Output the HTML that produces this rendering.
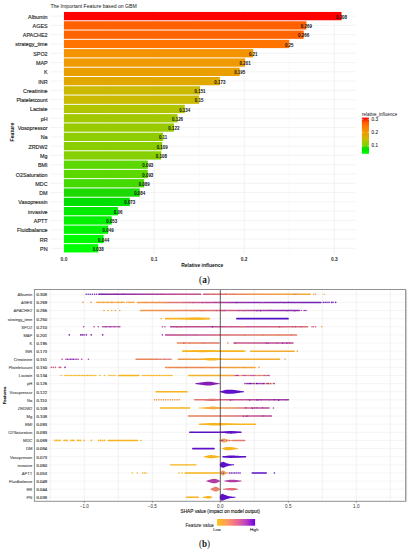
<!DOCTYPE html>
<html><head><meta charset="utf-8"><style>
html,body{margin:0;padding:0;background:#fff;width:410px;height:550px;overflow:hidden}
svg text{font-family:"Liberation Sans", sans-serif}
</style></head><body>
<svg width="410" height="550" viewBox="0 0 410 550" style="display:block">
<rect width="410" height="550" fill="#fff"/>
<line x1="109.05" y1="10.53" x2="109.05" y2="253.87" stroke="#F2F2F2" stroke-width="0.5"/>
<line x1="199.15" y1="10.53" x2="199.15" y2="253.87" stroke="#F2F2F2" stroke-width="0.5"/>
<line x1="289.25" y1="10.53" x2="289.25" y2="253.87" stroke="#F2F2F2" stroke-width="0.5"/>
<line x1="64.00" y1="10.53" x2="64.00" y2="253.87" stroke="#EDEDED" stroke-width="0.8"/>
<line x1="154.10" y1="10.53" x2="154.10" y2="253.87" stroke="#EDEDED" stroke-width="0.8"/>
<line x1="244.20" y1="10.53" x2="244.20" y2="253.87" stroke="#EDEDED" stroke-width="0.8"/>
<line x1="334.30" y1="10.53" x2="334.30" y2="253.87" stroke="#EDEDED" stroke-width="0.8"/>
<line x1="50.10" y1="16.10" x2="355.40" y2="16.10" stroke="#F0F0F0" stroke-width="0.8"/>
<line x1="50.10" y1="25.39" x2="355.40" y2="25.39" stroke="#F0F0F0" stroke-width="0.8"/>
<line x1="50.10" y1="34.68" x2="355.40" y2="34.68" stroke="#F0F0F0" stroke-width="0.8"/>
<line x1="50.10" y1="43.96" x2="355.40" y2="43.96" stroke="#F0F0F0" stroke-width="0.8"/>
<line x1="50.10" y1="53.25" x2="355.40" y2="53.25" stroke="#F0F0F0" stroke-width="0.8"/>
<line x1="50.10" y1="62.54" x2="355.40" y2="62.54" stroke="#F0F0F0" stroke-width="0.8"/>
<line x1="50.10" y1="71.83" x2="355.40" y2="71.83" stroke="#F0F0F0" stroke-width="0.8"/>
<line x1="50.10" y1="81.12" x2="355.40" y2="81.12" stroke="#F0F0F0" stroke-width="0.8"/>
<line x1="50.10" y1="90.40" x2="355.40" y2="90.40" stroke="#F0F0F0" stroke-width="0.8"/>
<line x1="50.10" y1="99.69" x2="355.40" y2="99.69" stroke="#F0F0F0" stroke-width="0.8"/>
<line x1="50.10" y1="108.98" x2="355.40" y2="108.98" stroke="#F0F0F0" stroke-width="0.8"/>
<line x1="50.10" y1="118.27" x2="355.40" y2="118.27" stroke="#F0F0F0" stroke-width="0.8"/>
<line x1="50.10" y1="127.56" x2="355.40" y2="127.56" stroke="#F0F0F0" stroke-width="0.8"/>
<line x1="50.10" y1="136.84" x2="355.40" y2="136.84" stroke="#F0F0F0" stroke-width="0.8"/>
<line x1="50.10" y1="146.13" x2="355.40" y2="146.13" stroke="#F0F0F0" stroke-width="0.8"/>
<line x1="50.10" y1="155.42" x2="355.40" y2="155.42" stroke="#F0F0F0" stroke-width="0.8"/>
<line x1="50.10" y1="164.71" x2="355.40" y2="164.71" stroke="#F0F0F0" stroke-width="0.8"/>
<line x1="50.10" y1="174.00" x2="355.40" y2="174.00" stroke="#F0F0F0" stroke-width="0.8"/>
<line x1="50.10" y1="183.28" x2="355.40" y2="183.28" stroke="#F0F0F0" stroke-width="0.8"/>
<line x1="50.10" y1="192.57" x2="355.40" y2="192.57" stroke="#F0F0F0" stroke-width="0.8"/>
<line x1="50.10" y1="201.86" x2="355.40" y2="201.86" stroke="#F0F0F0" stroke-width="0.8"/>
<line x1="50.10" y1="211.15" x2="355.40" y2="211.15" stroke="#F0F0F0" stroke-width="0.8"/>
<line x1="50.10" y1="220.44" x2="355.40" y2="220.44" stroke="#F0F0F0" stroke-width="0.8"/>
<line x1="50.10" y1="229.72" x2="355.40" y2="229.72" stroke="#F0F0F0" stroke-width="0.8"/>
<line x1="50.10" y1="239.01" x2="355.40" y2="239.01" stroke="#F0F0F0" stroke-width="0.8"/>
<line x1="50.10" y1="248.30" x2="355.40" y2="248.30" stroke="#F0F0F0" stroke-width="0.8"/>
<rect x="64.00" y="11.95" width="277.51" height="8.30" fill="#FF0000"/>
<rect x="64.00" y="21.24" width="242.37" height="8.30" fill="#FF6000"/>
<rect x="64.00" y="30.53" width="239.67" height="8.30" fill="#FF6400"/>
<rect x="64.00" y="39.81" width="225.25" height="8.30" fill="#FF7400"/>
<rect x="64.00" y="49.10" width="189.21" height="8.30" fill="#F39300"/>
<rect x="64.00" y="58.39" width="181.10" height="8.30" fill="#EF9A00"/>
<rect x="64.00" y="67.68" width="175.69" height="8.30" fill="#EA9F00"/>
<rect x="64.00" y="76.97" width="155.87" height="8.30" fill="#E0A800"/>
<rect x="64.00" y="86.25" width="136.05" height="8.30" fill="#CBB900"/>
<rect x="64.00" y="95.54" width="135.15" height="8.30" fill="#C9BA00"/>
<rect x="64.00" y="104.83" width="120.73" height="8.30" fill="#B0C400"/>
<rect x="64.00" y="114.12" width="113.53" height="8.30" fill="#A2C800"/>
<rect x="64.00" y="123.41" width="109.92" height="8.30" fill="#98CA00"/>
<rect x="64.00" y="132.69" width="99.11" height="8.30" fill="#8ECD00"/>
<rect x="64.00" y="141.98" width="98.21" height="8.30" fill="#8ACE00"/>
<rect x="64.00" y="151.27" width="97.31" height="8.30" fill="#86CF00"/>
<rect x="64.00" y="160.56" width="83.79" height="8.30" fill="#5CD800"/>
<rect x="64.00" y="169.85" width="83.79" height="8.30" fill="#5CD800"/>
<rect x="64.00" y="179.13" width="80.19" height="8.30" fill="#44D900"/>
<rect x="64.00" y="188.42" width="75.68" height="8.30" fill="#1CDA00"/>
<rect x="64.00" y="197.71" width="65.77" height="8.30" fill="#00E000"/>
<rect x="64.00" y="207.00" width="54.06" height="8.30" fill="#00EC00"/>
<rect x="64.00" y="216.29" width="47.75" height="8.30" fill="#00F200"/>
<rect x="64.00" y="225.57" width="44.15" height="8.30" fill="#00F600"/>
<rect x="64.00" y="234.86" width="39.64" height="8.30" fill="#00FA00"/>
<rect x="64.00" y="244.15" width="34.24" height="8.30" fill="#00FF00"/>
<text x="341.51" y="18.65" font-size="4.45" font-weight="bold" fill="#111" text-anchor="middle">0.308</text>
<text x="306.37" y="27.94" font-size="4.45" font-weight="bold" fill="#111" text-anchor="middle">0.269</text>
<text x="303.67" y="37.23" font-size="4.45" font-weight="bold" fill="#111" text-anchor="middle">0.266</text>
<text x="289.25" y="46.51" font-size="4.45" font-weight="bold" fill="#111" text-anchor="middle">0.25</text>
<text x="253.21" y="55.80" font-size="4.45" font-weight="bold" fill="#111" text-anchor="middle">0.21</text>
<text x="245.10" y="65.09" font-size="4.45" font-weight="bold" fill="#111" text-anchor="middle">0.201</text>
<text x="239.69" y="74.38" font-size="4.45" font-weight="bold" fill="#111" text-anchor="middle">0.195</text>
<text x="219.87" y="83.67" font-size="4.45" font-weight="bold" fill="#111" text-anchor="middle">0.173</text>
<text x="200.05" y="92.95" font-size="4.45" font-weight="bold" fill="#111" text-anchor="middle">0.151</text>
<text x="199.15" y="102.24" font-size="4.45" font-weight="bold" fill="#111" text-anchor="middle">0.15</text>
<text x="184.73" y="111.53" font-size="4.45" font-weight="bold" fill="#111" text-anchor="middle">0.134</text>
<text x="177.53" y="120.82" font-size="4.45" font-weight="bold" fill="#111" text-anchor="middle">0.126</text>
<text x="173.92" y="130.11" font-size="4.45" font-weight="bold" fill="#111" text-anchor="middle">0.122</text>
<text x="163.11" y="139.39" font-size="4.45" font-weight="bold" fill="#111" text-anchor="middle">0.11</text>
<text x="162.21" y="148.68" font-size="4.45" font-weight="bold" fill="#111" text-anchor="middle">0.109</text>
<text x="161.31" y="157.97" font-size="4.45" font-weight="bold" fill="#111" text-anchor="middle">0.108</text>
<text x="147.79" y="167.26" font-size="4.45" font-weight="bold" fill="#111" text-anchor="middle">0.093</text>
<text x="147.79" y="176.55" font-size="4.45" font-weight="bold" fill="#111" text-anchor="middle">0.093</text>
<text x="144.19" y="185.83" font-size="4.45" font-weight="bold" fill="#111" text-anchor="middle">0.089</text>
<text x="139.68" y="195.12" font-size="4.45" font-weight="bold" fill="#111" text-anchor="middle">0.084</text>
<text x="129.77" y="204.41" font-size="4.45" font-weight="bold" fill="#111" text-anchor="middle">0.073</text>
<text x="118.06" y="213.70" font-size="4.45" font-weight="bold" fill="#111" text-anchor="middle">0.06</text>
<text x="111.75" y="222.99" font-size="4.45" font-weight="bold" fill="#111" text-anchor="middle">0.053</text>
<text x="108.15" y="232.27" font-size="4.45" font-weight="bold" fill="#111" text-anchor="middle">0.049</text>
<text x="103.64" y="241.56" font-size="4.45" font-weight="bold" fill="#111" text-anchor="middle">0.044</text>
<text x="98.24" y="250.85" font-size="4.45" font-weight="bold" fill="#111" text-anchor="middle">0.038</text>
<text x="47.6" y="18.60" font-size="5.4" fill="#262626" stroke="#262626" stroke-width="0.14" text-anchor="end">Albumin</text>
<text x="47.6" y="27.89" font-size="5.4" fill="#262626" stroke="#262626" stroke-width="0.14" text-anchor="end">AGES</text>
<text x="47.6" y="37.18" font-size="5.4" fill="#262626" stroke="#262626" stroke-width="0.14" text-anchor="end">APACHE2</text>
<text x="47.6" y="46.46" font-size="5.4" fill="#262626" stroke="#262626" stroke-width="0.14" text-anchor="end">strategy_time</text>
<text x="47.6" y="55.75" font-size="5.4" fill="#262626" stroke="#262626" stroke-width="0.14" text-anchor="end">SPO2</text>
<text x="47.6" y="65.04" font-size="5.4" fill="#262626" stroke="#262626" stroke-width="0.14" text-anchor="end">MAP</text>
<text x="47.6" y="74.33" font-size="5.4" fill="#262626" stroke="#262626" stroke-width="0.14" text-anchor="end">K</text>
<text x="47.6" y="83.62" font-size="5.4" fill="#262626" stroke="#262626" stroke-width="0.14" text-anchor="end">INR</text>
<text x="47.6" y="92.90" font-size="5.4" fill="#262626" stroke="#262626" stroke-width="0.14" text-anchor="end">Creatinine</text>
<text x="47.6" y="102.19" font-size="5.4" fill="#262626" stroke="#262626" stroke-width="0.14" text-anchor="end">Plateletcount</text>
<text x="47.6" y="111.48" font-size="5.4" fill="#262626" stroke="#262626" stroke-width="0.14" text-anchor="end">Lactate</text>
<text x="47.6" y="120.77" font-size="5.4" fill="#262626" stroke="#262626" stroke-width="0.14" text-anchor="end">pH</text>
<text x="47.6" y="130.06" font-size="5.4" fill="#262626" stroke="#262626" stroke-width="0.14" text-anchor="end">Vosopressor</text>
<text x="47.6" y="139.34" font-size="5.4" fill="#262626" stroke="#262626" stroke-width="0.14" text-anchor="end">Na</text>
<text x="47.6" y="148.63" font-size="5.4" fill="#262626" stroke="#262626" stroke-width="0.14" text-anchor="end">ZRDW2</text>
<text x="47.6" y="157.92" font-size="5.4" fill="#262626" stroke="#262626" stroke-width="0.14" text-anchor="end">Mg</text>
<text x="47.6" y="167.21" font-size="5.4" fill="#262626" stroke="#262626" stroke-width="0.14" text-anchor="end">BMI</text>
<text x="47.6" y="176.50" font-size="5.4" fill="#262626" stroke="#262626" stroke-width="0.14" text-anchor="end">O2Saturation</text>
<text x="47.6" y="185.78" font-size="5.4" fill="#262626" stroke="#262626" stroke-width="0.14" text-anchor="end">MDC</text>
<text x="47.6" y="195.07" font-size="5.4" fill="#262626" stroke="#262626" stroke-width="0.14" text-anchor="end">DM</text>
<text x="47.6" y="204.36" font-size="5.4" fill="#262626" stroke="#262626" stroke-width="0.14" text-anchor="end">Vasopressin</text>
<text x="47.6" y="213.65" font-size="5.4" fill="#262626" stroke="#262626" stroke-width="0.14" text-anchor="end">invasive</text>
<text x="47.6" y="222.94" font-size="5.4" fill="#262626" stroke="#262626" stroke-width="0.14" text-anchor="end">APTT</text>
<text x="47.6" y="232.22" font-size="5.4" fill="#262626" stroke="#262626" stroke-width="0.14" text-anchor="end">Fluidbalance</text>
<text x="47.6" y="241.51" font-size="5.4" fill="#262626" stroke="#262626" stroke-width="0.14" text-anchor="end">RR</text>
<text x="47.6" y="250.80" font-size="5.4" fill="#262626" stroke="#262626" stroke-width="0.14" text-anchor="end">PN</text>
<text x="64.00" y="260.7" font-size="4.9" font-weight="bold" fill="#333" text-anchor="middle">0.0</text>
<text x="154.10" y="260.7" font-size="4.9" font-weight="bold" fill="#333" text-anchor="middle">0.1</text>
<text x="244.20" y="260.7" font-size="4.9" font-weight="bold" fill="#333" text-anchor="middle">0.2</text>
<text x="334.30" y="260.7" font-size="4.9" font-weight="bold" fill="#333" text-anchor="middle">0.3</text>
<text x="202.2" y="267" font-size="4.95" font-weight="bold" fill="#111" text-anchor="middle">Relative influence</text>
<text transform="translate(13.9,132.1) rotate(-90)" font-size="5.2" font-weight="bold" fill="#111" text-anchor="middle">Feature</text>
<text x="50.4" y="7.8" font-size="5.12" fill="#111">The Important Feature based on GBM</text>
<text x="361.9" y="115.6" font-size="4.54" fill="#111">relative_influence</text>
<defs><linearGradient id="lg" x1="0" y1="1" x2="0" y2="0">
<stop offset="0.000" stop-color="#00FF00"/>
<stop offset="0.022" stop-color="#00FA00"/>
<stop offset="0.041" stop-color="#00F600"/>
<stop offset="0.056" stop-color="#00F200"/>
<stop offset="0.081" stop-color="#00EC00"/>
<stop offset="0.130" stop-color="#00E000"/>
<stop offset="0.170" stop-color="#1CDA00"/>
<stop offset="0.189" stop-color="#44D900"/>
<stop offset="0.204" stop-color="#5CD800"/>
<stop offset="0.259" stop-color="#86CF00"/>
<stop offset="0.263" stop-color="#8ACE00"/>
<stop offset="0.267" stop-color="#8ECD00"/>
<stop offset="0.311" stop-color="#98CA00"/>
<stop offset="0.326" stop-color="#A2C800"/>
<stop offset="0.356" stop-color="#B0C400"/>
<stop offset="0.415" stop-color="#C9BA00"/>
<stop offset="0.419" stop-color="#CBB900"/>
<stop offset="0.500" stop-color="#E0A800"/>
<stop offset="0.581" stop-color="#EA9F00"/>
<stop offset="0.604" stop-color="#EF9A00"/>
<stop offset="0.637" stop-color="#F39300"/>
<stop offset="0.785" stop-color="#FF7400"/>
<stop offset="0.844" stop-color="#FF6400"/>
<stop offset="0.856" stop-color="#FF6000"/>
<stop offset="1.000" stop-color="#FF0000"/>
</linearGradient>
<linearGradient id="sg" x1="0" y1="0" x2="1" y2="0"><stop offset="0" stop-color="#FFC20A"/><stop offset="0.25" stop-color="#FF9C62"/><stop offset="0.5" stop-color="#EE6E8C"/><stop offset="0.75" stop-color="#C043BE"/><stop offset="1" stop-color="#6A00E4"/></linearGradient></defs>
<rect x="361.9" y="117.6" width="7.1" height="36.20" fill="url(#lg)"/>
<line x1="361.9" y1="119.30" x2="363.3" y2="119.30" stroke="#fff" stroke-width="0.5"/>
<line x1="367.6" y1="119.30" x2="369" y2="119.30" stroke="#fff" stroke-width="0.5"/>
<text x="371.6" y="120.95" font-size="4.6" fill="#262626" stroke="#262626" stroke-width="0.08">0.3</text>
<line x1="361.9" y1="132.40" x2="363.3" y2="132.40" stroke="#fff" stroke-width="0.5"/>
<line x1="367.6" y1="132.40" x2="369" y2="132.40" stroke="#fff" stroke-width="0.5"/>
<text x="371.6" y="134.05" font-size="4.6" fill="#262626" stroke="#262626" stroke-width="0.08">0.2</text>
<line x1="361.9" y1="145.80" x2="363.3" y2="145.80" stroke="#fff" stroke-width="0.5"/>
<line x1="367.6" y1="145.80" x2="369" y2="145.80" stroke="#fff" stroke-width="0.5"/>
<text x="371.6" y="147.45" font-size="4.6" fill="#262626" stroke="#262626" stroke-width="0.08">0.1</text>
<text x="199.1" y="282.7" font-size="10.5" fill="#111" textLength="10.8" lengthAdjust="spacingAndGlyphs" style='font-family:"Liberation Serif", serif'>(<tspan font-weight="bold">a</tspan>)</text>
<line x1="50.30" y1="289.5" x2="50.30" y2="501.3" stroke="#EBEBEB" stroke-width="0.7"/>
<line x1="84.30" y1="289.5" x2="84.30" y2="501.3" stroke="#EBEBEB" stroke-width="0.7"/>
<line x1="118.30" y1="289.5" x2="118.30" y2="501.3" stroke="#EBEBEB" stroke-width="0.7"/>
<line x1="152.30" y1="289.5" x2="152.30" y2="501.3" stroke="#EBEBEB" stroke-width="0.7"/>
<line x1="186.30" y1="289.5" x2="186.30" y2="501.3" stroke="#EBEBEB" stroke-width="0.7"/>
<line x1="254.30" y1="289.5" x2="254.30" y2="501.3" stroke="#EBEBEB" stroke-width="0.7"/>
<line x1="288.30" y1="289.5" x2="288.30" y2="501.3" stroke="#EBEBEB" stroke-width="0.7"/>
<line x1="322.30" y1="289.5" x2="322.30" y2="501.3" stroke="#EBEBEB" stroke-width="0.7"/>
<line x1="356.30" y1="289.5" x2="356.30" y2="501.3" stroke="#EBEBEB" stroke-width="0.7"/>
<line x1="390.30" y1="289.5" x2="390.30" y2="501.3" stroke="#EBEBEB" stroke-width="0.7"/>
<line x1="34.4" y1="294.30" x2="405.6" y2="294.30" stroke="#F1F1F1" stroke-width="0.7"/>
<line x1="34.4" y1="302.42" x2="405.6" y2="302.42" stroke="#F1F1F1" stroke-width="0.7"/>
<line x1="34.4" y1="310.54" x2="405.6" y2="310.54" stroke="#F1F1F1" stroke-width="0.7"/>
<line x1="34.4" y1="318.66" x2="405.6" y2="318.66" stroke="#F1F1F1" stroke-width="0.7"/>
<line x1="34.4" y1="326.78" x2="405.6" y2="326.78" stroke="#F1F1F1" stroke-width="0.7"/>
<line x1="34.4" y1="334.90" x2="405.6" y2="334.90" stroke="#F1F1F1" stroke-width="0.7"/>
<line x1="34.4" y1="343.02" x2="405.6" y2="343.02" stroke="#F1F1F1" stroke-width="0.7"/>
<line x1="34.4" y1="351.14" x2="405.6" y2="351.14" stroke="#F1F1F1" stroke-width="0.7"/>
<line x1="34.4" y1="359.26" x2="405.6" y2="359.26" stroke="#F1F1F1" stroke-width="0.7"/>
<line x1="34.4" y1="367.38" x2="405.6" y2="367.38" stroke="#F1F1F1" stroke-width="0.7"/>
<line x1="34.4" y1="375.50" x2="405.6" y2="375.50" stroke="#F1F1F1" stroke-width="0.7"/>
<line x1="34.4" y1="383.62" x2="405.6" y2="383.62" stroke="#F1F1F1" stroke-width="0.7"/>
<line x1="34.4" y1="391.74" x2="405.6" y2="391.74" stroke="#F1F1F1" stroke-width="0.7"/>
<line x1="34.4" y1="399.86" x2="405.6" y2="399.86" stroke="#F1F1F1" stroke-width="0.7"/>
<line x1="34.4" y1="407.98" x2="405.6" y2="407.98" stroke="#F1F1F1" stroke-width="0.7"/>
<line x1="34.4" y1="416.10" x2="405.6" y2="416.10" stroke="#F1F1F1" stroke-width="0.7"/>
<line x1="34.4" y1="424.22" x2="405.6" y2="424.22" stroke="#F1F1F1" stroke-width="0.7"/>
<line x1="34.4" y1="432.34" x2="405.6" y2="432.34" stroke="#F1F1F1" stroke-width="0.7"/>
<line x1="34.4" y1="440.46" x2="405.6" y2="440.46" stroke="#F1F1F1" stroke-width="0.7"/>
<line x1="34.4" y1="448.58" x2="405.6" y2="448.58" stroke="#F1F1F1" stroke-width="0.7"/>
<line x1="34.4" y1="456.70" x2="405.6" y2="456.70" stroke="#F1F1F1" stroke-width="0.7"/>
<line x1="34.4" y1="464.82" x2="405.6" y2="464.82" stroke="#F1F1F1" stroke-width="0.7"/>
<line x1="34.4" y1="472.94" x2="405.6" y2="472.94" stroke="#F1F1F1" stroke-width="0.7"/>
<line x1="34.4" y1="481.06" x2="405.6" y2="481.06" stroke="#F1F1F1" stroke-width="0.7"/>
<line x1="34.4" y1="489.18" x2="405.6" y2="489.18" stroke="#F1F1F1" stroke-width="0.7"/>
<line x1="34.4" y1="497.30" x2="405.6" y2="497.30" stroke="#F1F1F1" stroke-width="0.7"/>
<text x="32.3" y="296.15" font-size="4.1" fill="#555" stroke="#555" stroke-width="0.12" text-anchor="end">Albumin</text>
<text x="36.6" y="296.15" font-size="4.2" fill="#333" stroke="#333" stroke-width="0.12">0.308</text>
<text x="32.3" y="304.27" font-size="4.1" fill="#555" stroke="#555" stroke-width="0.12" text-anchor="end">AGES</text>
<text x="36.6" y="304.27" font-size="4.2" fill="#333" stroke="#333" stroke-width="0.12">0.269</text>
<text x="32.3" y="312.39" font-size="4.1" fill="#555" stroke="#555" stroke-width="0.12" text-anchor="end">APACHE2</text>
<text x="36.6" y="312.39" font-size="4.2" fill="#333" stroke="#333" stroke-width="0.12">0.266</text>
<text x="32.3" y="320.51" font-size="4.1" fill="#555" stroke="#555" stroke-width="0.12" text-anchor="end">strategy_time</text>
<text x="36.6" y="320.51" font-size="4.2" fill="#333" stroke="#333" stroke-width="0.12">0.250</text>
<text x="32.3" y="328.63" font-size="4.1" fill="#555" stroke="#555" stroke-width="0.12" text-anchor="end">SPO2</text>
<text x="36.6" y="328.63" font-size="4.2" fill="#333" stroke="#333" stroke-width="0.12">0.210</text>
<text x="32.3" y="336.75" font-size="4.1" fill="#555" stroke="#555" stroke-width="0.12" text-anchor="end">MAP</text>
<text x="36.6" y="336.75" font-size="4.2" fill="#333" stroke="#333" stroke-width="0.12">0.201</text>
<text x="32.3" y="344.87" font-size="4.1" fill="#555" stroke="#555" stroke-width="0.12" text-anchor="end">K</text>
<text x="36.6" y="344.87" font-size="4.2" fill="#333" stroke="#333" stroke-width="0.12">0.195</text>
<text x="32.3" y="352.99" font-size="4.1" fill="#555" stroke="#555" stroke-width="0.12" text-anchor="end">INR</text>
<text x="36.6" y="352.99" font-size="4.2" fill="#333" stroke="#333" stroke-width="0.12">0.173</text>
<text x="32.3" y="361.11" font-size="4.1" fill="#555" stroke="#555" stroke-width="0.12" text-anchor="end">Creatinine</text>
<text x="36.6" y="361.11" font-size="4.2" fill="#333" stroke="#333" stroke-width="0.12">0.151</text>
<text x="32.3" y="369.23" font-size="4.1" fill="#555" stroke="#555" stroke-width="0.12" text-anchor="end">Plateletcount</text>
<text x="36.6" y="369.23" font-size="4.2" fill="#333" stroke="#333" stroke-width="0.12">0.150</text>
<text x="32.3" y="377.35" font-size="4.1" fill="#555" stroke="#555" stroke-width="0.12" text-anchor="end">Lactate</text>
<text x="36.6" y="377.35" font-size="4.2" fill="#333" stroke="#333" stroke-width="0.12">0.134</text>
<text x="32.3" y="385.47" font-size="4.1" fill="#555" stroke="#555" stroke-width="0.12" text-anchor="end">pH</text>
<text x="36.6" y="385.47" font-size="4.2" fill="#333" stroke="#333" stroke-width="0.12">0.126</text>
<text x="32.3" y="393.59" font-size="4.1" fill="#555" stroke="#555" stroke-width="0.12" text-anchor="end">Vosopressor</text>
<text x="36.6" y="393.59" font-size="4.2" fill="#333" stroke="#333" stroke-width="0.12">0.122</text>
<text x="32.3" y="401.71" font-size="4.1" fill="#555" stroke="#555" stroke-width="0.12" text-anchor="end">Na</text>
<text x="36.6" y="401.71" font-size="4.2" fill="#333" stroke="#333" stroke-width="0.12">0.110</text>
<text x="32.3" y="409.83" font-size="4.1" fill="#555" stroke="#555" stroke-width="0.12" text-anchor="end">ZRDW2</text>
<text x="36.6" y="409.83" font-size="4.2" fill="#333" stroke="#333" stroke-width="0.12">0.109</text>
<text x="32.3" y="417.95" font-size="4.1" fill="#555" stroke="#555" stroke-width="0.12" text-anchor="end">Mg</text>
<text x="36.6" y="417.95" font-size="4.2" fill="#333" stroke="#333" stroke-width="0.12">0.108</text>
<text x="32.3" y="426.07" font-size="4.1" fill="#555" stroke="#555" stroke-width="0.12" text-anchor="end">BMI</text>
<text x="36.6" y="426.07" font-size="4.2" fill="#333" stroke="#333" stroke-width="0.12">0.093</text>
<text x="32.3" y="434.19" font-size="4.1" fill="#555" stroke="#555" stroke-width="0.12" text-anchor="end">O2Saturation</text>
<text x="36.6" y="434.19" font-size="4.2" fill="#333" stroke="#333" stroke-width="0.12">0.093</text>
<text x="32.3" y="442.31" font-size="4.1" fill="#555" stroke="#555" stroke-width="0.12" text-anchor="end">MDC</text>
<text x="36.6" y="442.31" font-size="4.2" fill="#333" stroke="#333" stroke-width="0.12">0.089</text>
<text x="32.3" y="450.43" font-size="4.1" fill="#555" stroke="#555" stroke-width="0.12" text-anchor="end">DM</text>
<text x="36.6" y="450.43" font-size="4.2" fill="#333" stroke="#333" stroke-width="0.12">0.084</text>
<text x="32.3" y="458.55" font-size="4.1" fill="#555" stroke="#555" stroke-width="0.12" text-anchor="end">Vasopressin</text>
<text x="36.6" y="458.55" font-size="4.2" fill="#333" stroke="#333" stroke-width="0.12">0.073</text>
<text x="32.3" y="466.67" font-size="4.1" fill="#555" stroke="#555" stroke-width="0.12" text-anchor="end">invasive</text>
<text x="36.6" y="466.67" font-size="4.2" fill="#333" stroke="#333" stroke-width="0.12">0.060</text>
<text x="32.3" y="474.79" font-size="4.1" fill="#555" stroke="#555" stroke-width="0.12" text-anchor="end">APTT</text>
<text x="36.6" y="474.79" font-size="4.2" fill="#333" stroke="#333" stroke-width="0.12">0.053</text>
<text x="32.3" y="482.91" font-size="4.1" fill="#555" stroke="#555" stroke-width="0.12" text-anchor="end">Fluidbalance</text>
<text x="36.6" y="482.91" font-size="4.2" fill="#333" stroke="#333" stroke-width="0.12">0.049</text>
<text x="32.3" y="491.03" font-size="4.1" fill="#555" stroke="#555" stroke-width="0.12" text-anchor="end">RR</text>
<text x="36.6" y="491.03" font-size="4.2" fill="#333" stroke="#333" stroke-width="0.12">0.044</text>
<text x="32.3" y="499.15" font-size="4.1" fill="#555" stroke="#555" stroke-width="0.12" text-anchor="end">PN</text>
<text x="36.6" y="499.15" font-size="4.2" fill="#333" stroke="#333" stroke-width="0.12">0.038</text>
<g><defs><linearGradient id="g1" gradientUnits="userSpaceOnUse" x1="98.00" y1="0" x2="201.50" y2="0"><stop offset="0.000" stop-color="#7A22AC"/><stop offset="0.213" stop-color="#8A2AA6"/><stop offset="0.454" stop-color="#A63A9C"/><stop offset="0.744" stop-color="#BE4A92"/><stop offset="1.000" stop-color="#C45090"/></linearGradient><linearGradient id="g2" gradientUnits="userSpaceOnUse" x1="202.80" y1="0" x2="311.00" y2="0"><stop offset="0.000" stop-color="#D05E86"/><stop offset="0.177" stop-color="#E07070"/><stop offset="0.436" stop-color="#EE9050"/><stop offset="0.806" stop-color="#F2A444"/><stop offset="1.000" stop-color="#F4AE3A"/></linearGradient><linearGradient id="g3" gradientUnits="userSpaceOnUse" x1="136.60" y1="0" x2="321.70" y2="0"><stop offset="0.000" stop-color="#F2A040"/><stop offset="0.126" stop-color="#EC8A58"/><stop offset="0.234" stop-color="#DC6C78"/><stop offset="0.343" stop-color="#C85890"/><stop offset="0.451" stop-color="#A83CA0"/><stop offset="0.613" stop-color="#8A2CAE"/><stop offset="1.000" stop-color="#7020B8"/></linearGradient><linearGradient id="g4" gradientUnits="userSpaceOnUse" x1="139.80" y1="0" x2="300.00" y2="0"><stop offset="0.000" stop-color="#F09A48"/><stop offset="0.220" stop-color="#EA8858"/><stop offset="0.407" stop-color="#E27468"/><stop offset="0.594" stop-color="#CC5C88"/><stop offset="0.750" stop-color="#A83CA2"/><stop offset="0.906" stop-color="#8A2CB0"/><stop offset="1.000" stop-color="#8A2CB0"/></linearGradient><linearGradient id="g5" gradientUnits="userSpaceOnUse" x1="169.80" y1="0" x2="308.30" y2="0"><stop offset="0.000" stop-color="#B8449A"/><stop offset="0.362" stop-color="#C4508E"/><stop offset="0.651" stop-color="#CC5C88"/><stop offset="0.868" stop-color="#D86A7C"/><stop offset="1.000" stop-color="#DC7078"/></linearGradient><linearGradient id="g6" gradientUnits="userSpaceOnUse" x1="164.90" y1="0" x2="297.30" y2="0"><stop offset="0.000" stop-color="#B84698"/><stop offset="0.265" stop-color="#C65490"/><stop offset="0.431" stop-color="#D86878"/><stop offset="0.643" stop-color="#E27668"/><stop offset="1.000" stop-color="#E67C62"/></linearGradient><linearGradient id="g7" gradientUnits="userSpaceOnUse" x1="176.60" y1="0" x2="219.80" y2="0"><stop offset="0.000" stop-color="#EA8A58"/><stop offset="1.000" stop-color="#E27668"/></linearGradient><linearGradient id="g8" gradientUnits="userSpaceOnUse" x1="233.20" y1="0" x2="293.70" y2="0"><stop offset="0.000" stop-color="#D0608A"/><stop offset="0.443" stop-color="#C4508E"/><stop offset="1.000" stop-color="#BE4896"/></linearGradient><linearGradient id="g9" gradientUnits="userSpaceOnUse" x1="249.80" y1="0" x2="294.90" y2="0"><stop offset="0.000" stop-color="#F6B028"/><stop offset="1.000" stop-color="#F2A838"/></linearGradient><linearGradient id="g10" gradientUnits="userSpaceOnUse" x1="177.60" y1="0" x2="280.20" y2="0"><stop offset="0.000" stop-color="#EE9648"/><stop offset="0.267" stop-color="#F4A838"/><stop offset="0.433" stop-color="#F6B02C"/><stop offset="1.000" stop-color="#F4AC32"/></linearGradient><linearGradient id="g11" gradientUnits="userSpaceOnUse" x1="164.90" y1="0" x2="255.90" y2="0"><stop offset="0.000" stop-color="#E8845A"/><stop offset="0.496" stop-color="#EA8A52"/><stop offset="0.660" stop-color="#F09C40"/><stop offset="1.000" stop-color="#F4A834"/></linearGradient><linearGradient id="g12" gradientUnits="userSpaceOnUse" x1="188.00" y1="0" x2="235.00" y2="0"><stop offset="0.000" stop-color="#F8B420"/><stop offset="0.681" stop-color="#F4AC30"/><stop offset="1.000" stop-color="#F0A040"/></linearGradient><linearGradient id="g13" gradientUnits="userSpaceOnUse" x1="193.90" y1="0" x2="289.30" y2="0"><stop offset="0.000" stop-color="#E07A68"/><stop offset="0.221" stop-color="#DC7078"/><stop offset="0.431" stop-color="#C85890"/><stop offset="0.693" stop-color="#B44498"/><stop offset="1.000" stop-color="#A03CA4"/></linearGradient><linearGradient id="g14" gradientUnits="userSpaceOnUse" x1="205.00" y1="0" x2="269.80" y2="0"><stop offset="0.000" stop-color="#F4A840"/><stop offset="0.231" stop-color="#F0A050"/><stop offset="0.463" stop-color="#E88C60"/><stop offset="0.664" stop-color="#D06C80"/><stop offset="0.849" stop-color="#C05090"/><stop offset="1.000" stop-color="#B84896"/></linearGradient><linearGradient id="g15" gradientUnits="userSpaceOnUse" x1="187.80" y1="0" x2="272.20" y2="0"><stop offset="0.000" stop-color="#E8845A"/><stop offset="0.405" stop-color="#E27868"/><stop offset="0.618" stop-color="#D86C78"/><stop offset="0.796" stop-color="#C45490"/><stop offset="1.000" stop-color="#B84898"/></linearGradient></defs><circle cx="86.20" cy="294.30" r="0.8" fill="#7A1FA8"/>
<circle cx="88.20" cy="294.30" r="0.8" fill="#7A1FA8"/>
<circle cx="90.20" cy="294.30" r="0.8" fill="#7A1FA8"/>
<circle cx="92.40" cy="294.30" r="0.8" fill="#7A1FA8"/>
<circle cx="94.60" cy="294.30" r="0.8" fill="#7A1FA8"/>
<circle cx="96.60" cy="294.30" r="0.8" fill="#7A1FA8"/>
<rect x="98.00" y="293.55" width="103.50" height="1.50" rx="0.75" fill="url(#g1)"/>
<circle cx="114.63" cy="294.03" r="0.6" fill="#B23E9E"/>
<circle cx="101.50" cy="294.26" r="0.6" fill="#B23E9E"/>
<circle cx="109.63" cy="294.33" r="0.6" fill="#B23E9E"/>
<circle cx="133.07" cy="294.07" r="0.6" fill="#B23E9E"/>
<circle cx="125.23" cy="294.35" r="0.6" fill="#B23E9E"/>
<circle cx="123.08" cy="294.24" r="0.6" fill="#B23E9E"/>
<circle cx="101.86" cy="294.52" r="0.6" fill="#6A1AB0"/>
<circle cx="116.77" cy="294.32" r="0.6" fill="#6A1AB0"/>
<circle cx="122.41" cy="294.41" r="0.6" fill="#B23E9E"/>
<circle cx="123.26" cy="294.38" r="0.6" fill="#6A1AB0"/>
<circle cx="145.85" cy="294.43" r="0.6" fill="#B23E9E"/>
<circle cx="177.14" cy="294.30" r="0.6" fill="#D05C88"/>
<circle cx="186.63" cy="294.28" r="0.6" fill="#D05C88"/>
<circle cx="161.69" cy="294.15" r="0.6" fill="#B23E9E"/>
<circle cx="181.94" cy="294.15" r="0.6" fill="#D05C88"/>
<circle cx="171.51" cy="294.53" r="0.6" fill="#D05C88"/>
<circle cx="157.28" cy="294.59" r="0.6" fill="#B23E9E"/>
<circle cx="170.72" cy="294.10" r="0.6" fill="#D05C88"/>
<circle cx="149.12" cy="294.29" r="0.6" fill="#B23E9E"/>
<circle cx="197.72" cy="294.05" r="0.6" fill="#D05C88"/>
<circle cx="160.41" cy="294.21" r="0.6" fill="#D05C88"/>
<circle cx="174.79" cy="294.27" r="0.6" fill="#B23E9E"/>
<rect x="202.80" y="293.55" width="108.20" height="1.50" rx="0.75" fill="url(#g2)"/>
<circle cx="294.74" cy="294.28" r="0.6" fill="#D05C88"/>
<circle cx="211.17" cy="294.44" r="0.6" fill="#F4A43A"/>
<circle cx="266.48" cy="294.60" r="0.6" fill="#F4A43A"/>
<circle cx="232.04" cy="294.23" r="0.6" fill="#D05C88"/>
<circle cx="237.97" cy="294.56" r="0.6" fill="#F4A43A"/>
<circle cx="220.96" cy="294.07" r="0.6" fill="#E67A62"/>
<circle cx="225.73" cy="294.17" r="0.6" fill="#D05C88"/>
<circle cx="228.52" cy="294.23" r="0.6" fill="#F4A43A"/>
<circle cx="212.66" cy="294.27" r="0.6" fill="#D05C88"/>
<circle cx="231.39" cy="294.08" r="0.6" fill="#F4A43A"/>
<circle cx="287.08" cy="294.17" r="0.6" fill="#F4A43A"/>
<circle cx="298.71" cy="294.41" r="0.6" fill="#F4A43A"/>
<circle cx="295.98" cy="294.09" r="0.6" fill="#E67A62"/>
<circle cx="219.37" cy="294.40" r="0.6" fill="#E67A62"/>
<circle cx="251.07" cy="294.35" r="0.6" fill="#F4A43A"/>
<circle cx="313.50" cy="294.30" r="0.8" fill="#F4A43A"/>
<circle cx="315.50" cy="294.30" r="0.8" fill="#F4A43A"/>
<circle cx="324.30" cy="294.30" r="0.8" fill="#F4B030"/>
<circle cx="83.00" cy="302.42" r="0.8" fill="#F4A43A"/>
<circle cx="91.00" cy="302.42" r="0.8" fill="#F4A43A"/>
<circle cx="97.00" cy="302.42" r="0.8" fill="#F4A43A"/>
<circle cx="98.31" cy="302.42" r="0.8" fill="#F4A43A"/>
<circle cx="99.62" cy="302.42" r="0.8" fill="#F4A43A"/>
<circle cx="100.92" cy="302.42" r="0.8" fill="#F4A43A"/>
<circle cx="102.23" cy="302.42" r="0.8" fill="#F4A43A"/>
<circle cx="103.54" cy="302.42" r="0.8" fill="#F4A43A"/>
<circle cx="104.85" cy="302.42" r="0.8" fill="#F4A43A"/>
<circle cx="106.15" cy="302.42" r="0.8" fill="#F4A43A"/>
<circle cx="107.46" cy="302.42" r="0.8" fill="#F4A43A"/>
<circle cx="108.77" cy="302.42" r="0.8" fill="#F4A43A"/>
<circle cx="110.08" cy="302.42" r="0.8" fill="#F4A43A"/>
<circle cx="111.38" cy="302.42" r="0.8" fill="#F4A43A"/>
<circle cx="112.69" cy="302.42" r="0.8" fill="#F4A43A"/>
<circle cx="114.00" cy="302.42" r="0.8" fill="#F4A43A"/>
<circle cx="116.00" cy="302.42" r="0.8" fill="#F4A43A"/>
<circle cx="117.33" cy="302.42" r="0.8" fill="#F4A43A"/>
<circle cx="118.67" cy="302.42" r="0.8" fill="#F4A43A"/>
<circle cx="120.00" cy="302.42" r="0.8" fill="#F4A43A"/>
<circle cx="121.33" cy="302.42" r="0.8" fill="#F4A43A"/>
<circle cx="122.67" cy="302.42" r="0.8" fill="#F4A43A"/>
<circle cx="124.00" cy="302.42" r="0.8" fill="#F4A43A"/>
<circle cx="126.80" cy="302.42" r="0.8" fill="#F4A43A"/>
<circle cx="128.18" cy="302.42" r="0.8" fill="#F4A43A"/>
<circle cx="129.56" cy="302.42" r="0.8" fill="#F4A43A"/>
<circle cx="130.94" cy="302.42" r="0.8" fill="#F4A43A"/>
<circle cx="132.32" cy="302.42" r="0.8" fill="#F4A43A"/>
<circle cx="133.70" cy="302.42" r="0.8" fill="#F4A43A"/>
<rect x="136.60" y="301.67" width="185.10" height="1.50" rx="0.75" fill="url(#g3)"/>
<circle cx="174.97" cy="302.49" r="0.6" fill="#E67A62"/>
<circle cx="165.38" cy="302.69" r="0.6" fill="#F4A43A"/>
<circle cx="158.97" cy="302.19" r="0.6" fill="#F4A43A"/>
<circle cx="179.72" cy="302.40" r="0.6" fill="#F4A43A"/>
<circle cx="152.47" cy="302.21" r="0.6" fill="#F4A43A"/>
<circle cx="169.61" cy="302.41" r="0.6" fill="#E67A62"/>
<circle cx="160.65" cy="302.24" r="0.6" fill="#F4A43A"/>
<circle cx="145.86" cy="302.45" r="0.6" fill="#E67A62"/>
<circle cx="217.91" cy="302.30" r="0.6" fill="#D05C88"/>
<circle cx="214.81" cy="302.28" r="0.6" fill="#B23E9E"/>
<circle cx="225.41" cy="302.33" r="0.6" fill="#D05C88"/>
<circle cx="206.63" cy="302.59" r="0.6" fill="#B23E9E"/>
<circle cx="211.82" cy="302.49" r="0.6" fill="#D05C88"/>
<circle cx="220.30" cy="302.61" r="0.6" fill="#D05C88"/>
<circle cx="190.00" cy="302.42" r="0.6" fill="#D05C88"/>
<circle cx="229.48" cy="302.59" r="0.6" fill="#B23E9E"/>
<circle cx="192.96" cy="302.54" r="0.6" fill="#B23E9E"/>
<circle cx="202.36" cy="302.68" r="0.6" fill="#B23E9E"/>
<circle cx="296.85" cy="302.34" r="0.6" fill="#B23E9E"/>
<circle cx="237.15" cy="302.40" r="0.6" fill="#7422B4"/>
<circle cx="244.31" cy="302.49" r="0.6" fill="#B23E9E"/>
<circle cx="263.56" cy="302.51" r="0.6" fill="#B23E9E"/>
<circle cx="288.43" cy="302.19" r="0.6" fill="#7422B4"/>
<circle cx="284.76" cy="302.57" r="0.6" fill="#7422B4"/>
<circle cx="292.23" cy="302.38" r="0.6" fill="#7422B4"/>
<circle cx="236.07" cy="302.69" r="0.6" fill="#7422B4"/>
<circle cx="262.42" cy="302.57" r="0.6" fill="#B23E9E"/>
<circle cx="280.74" cy="302.22" r="0.6" fill="#B23E9E"/>
<circle cx="323.30" cy="302.42" r="0.8" fill="#7422B4"/>
<circle cx="325.15" cy="302.42" r="0.8" fill="#7422B4"/>
<circle cx="327.00" cy="302.42" r="0.8" fill="#7422B4"/>
<circle cx="329.00" cy="302.42" r="0.8" fill="#7422B4"/>
<circle cx="331.50" cy="302.42" r="0.8" fill="#7422B4"/>
<circle cx="333.00" cy="302.42" r="0.8" fill="#7422B4"/>
<circle cx="335.70" cy="302.42" r="0.8" fill="#7422B4"/>
<circle cx="104.00" cy="310.54" r="0.8" fill="#F4A43A"/>
<circle cx="108.00" cy="310.54" r="0.8" fill="#F4A43A"/>
<circle cx="111.70" cy="310.54" r="0.8" fill="#F4A43A"/>
<circle cx="115.40" cy="310.54" r="0.8" fill="#F4A43A"/>
<circle cx="119.80" cy="310.54" r="0.8" fill="#F4A43A"/>
<rect x="139.80" y="309.79" width="160.20" height="1.50" rx="0.75" fill="url(#g4)"/>
<circle cx="168.86" cy="310.76" r="0.6" fill="#F4A43A"/>
<circle cx="146.54" cy="310.37" r="0.6" fill="#F4A43A"/>
<circle cx="187.00" cy="310.44" r="0.6" fill="#E67A62"/>
<circle cx="190.88" cy="310.28" r="0.6" fill="#E67A62"/>
<circle cx="194.37" cy="310.64" r="0.6" fill="#E67A62"/>
<circle cx="190.49" cy="310.77" r="0.6" fill="#F4A43A"/>
<circle cx="174.25" cy="310.55" r="0.6" fill="#F4A43A"/>
<circle cx="193.00" cy="310.71" r="0.6" fill="#F4A43A"/>
<circle cx="187.68" cy="310.33" r="0.6" fill="#F4A43A"/>
<circle cx="171.04" cy="310.68" r="0.6" fill="#F4A43A"/>
<circle cx="216.30" cy="310.55" r="0.6" fill="#B23E9E"/>
<circle cx="224.12" cy="310.71" r="0.6" fill="#B23E9E"/>
<circle cx="202.84" cy="310.35" r="0.6" fill="#E67A62"/>
<circle cx="238.61" cy="310.54" r="0.6" fill="#B23E9E"/>
<circle cx="201.39" cy="310.78" r="0.6" fill="#E67A62"/>
<circle cx="222.16" cy="310.61" r="0.6" fill="#B23E9E"/>
<circle cx="230.31" cy="310.36" r="0.6" fill="#D05C88"/>
<circle cx="222.62" cy="310.56" r="0.6" fill="#D05C88"/>
<circle cx="225.39" cy="310.39" r="0.6" fill="#B23E9E"/>
<circle cx="243.83" cy="310.81" r="0.6" fill="#D05C88"/>
<circle cx="294.29" cy="310.78" r="0.6" fill="#B23E9E"/>
<circle cx="290.32" cy="310.32" r="0.6" fill="#B23E9E"/>
<circle cx="268.83" cy="310.43" r="0.6" fill="#B23E9E"/>
<circle cx="270.56" cy="310.37" r="0.6" fill="#7422B4"/>
<circle cx="287.63" cy="310.78" r="0.6" fill="#B23E9E"/>
<circle cx="295.10" cy="310.63" r="0.6" fill="#7422B4"/>
<circle cx="256.86" cy="310.77" r="0.6" fill="#7422B4"/>
<circle cx="260.54" cy="310.81" r="0.6" fill="#7422B4"/>
<circle cx="292.48" cy="310.34" r="0.6" fill="#B23E9E"/>
<circle cx="257.75" cy="310.50" r="0.6" fill="#7422B4"/>
<circle cx="301.20" cy="310.54" r="0.8" fill="#B23E9E"/>
<circle cx="304.10" cy="310.54" r="0.8" fill="#7422B4"/>
<circle cx="305.90" cy="310.54" r="0.8" fill="#7422B4"/>
<circle cx="161.20" cy="318.66" r="0.8" fill="#F8B41C"/>
<rect x="164.90" y="317.76" width="45.10" height="1.80" rx="0.90" fill="#F8B41C"/>
<path d="M180.00,318.24 L181.14,318.20 L182.29,318.14 L183.43,318.07 L184.57,317.99 L185.71,317.92 L186.86,317.84 L188.00,317.77 L189.14,317.71 L190.29,317.65 L191.43,317.60 L192.57,317.56 L193.71,317.53 L194.86,317.52 L196.00,317.51 L197.00,317.52 L198.00,317.53 L199.00,317.56 L200.00,317.60 L201.00,317.65 L202.00,317.71 L203.00,317.77 L204.00,317.84 L205.00,317.92 L206.00,317.99 L207.00,318.07 L208.00,318.14 L209.00,318.20 L210.00,318.24 L210.00,319.08 L209.00,319.12 L208.00,319.18 L207.00,319.25 L206.00,319.33 L205.00,319.40 L204.00,319.48 L203.00,319.55 L202.00,319.61 L201.00,319.67 L200.00,319.72 L199.00,319.76 L198.00,319.79 L197.00,319.80 L196.00,319.81 L194.86,319.80 L193.71,319.79 L192.57,319.76 L191.43,319.72 L190.29,319.67 L189.14,319.61 L188.00,319.55 L186.86,319.48 L185.71,319.40 L184.57,319.33 L183.43,319.25 L182.29,319.18 L181.14,319.12 L180.00,319.08Z" fill="#F8B41C"/>
<rect x="236.10" y="317.76" width="52.70" height="1.80" rx="0.90" fill="#5410C4"/>
<circle cx="83.70" cy="326.78" r="0.8" fill="#B23E9E"/>
<circle cx="94.10" cy="326.78" r="0.8" fill="#B23E9E"/>
<circle cx="98.30" cy="326.78" r="0.8" fill="#B23E9E"/>
<circle cx="102.70" cy="326.78" r="0.8" fill="#B23E9E"/>
<circle cx="104.02" cy="326.78" r="0.8" fill="#9A30A8"/>
<circle cx="105.33" cy="326.78" r="0.8" fill="#9A30A8"/>
<circle cx="106.65" cy="326.78" r="0.8" fill="#9A30A8"/>
<circle cx="107.96" cy="326.78" r="0.8" fill="#B23E9E"/>
<circle cx="109.28" cy="326.78" r="0.8" fill="#9A30A8"/>
<circle cx="110.59" cy="326.78" r="0.8" fill="#9A30A8"/>
<circle cx="111.91" cy="326.78" r="0.8" fill="#9A30A8"/>
<circle cx="113.22" cy="326.78" r="0.8" fill="#B23E9E"/>
<circle cx="114.54" cy="326.78" r="0.8" fill="#B23E9E"/>
<circle cx="115.85" cy="326.78" r="0.8" fill="#B23E9E"/>
<circle cx="117.17" cy="326.78" r="0.8" fill="#B23E9E"/>
<circle cx="118.48" cy="326.78" r="0.8" fill="#B23E9E"/>
<circle cx="119.80" cy="326.78" r="0.8" fill="#9A30A8"/>
<circle cx="162.40" cy="326.78" r="0.8" fill="#B23E9E"/>
<circle cx="164.90" cy="326.78" r="0.8" fill="#B23E9E"/>
<rect x="169.80" y="326.03" width="138.50" height="1.50" rx="0.75" fill="url(#g5)"/>
<circle cx="292.77" cy="326.59" r="0.6" fill="#B23E9E"/>
<circle cx="281.57" cy="326.99" r="0.6" fill="#E67A62"/>
<circle cx="227.77" cy="326.80" r="0.6" fill="#F4A43A"/>
<circle cx="266.05" cy="326.53" r="0.6" fill="#D05C88"/>
<circle cx="278.95" cy="326.59" r="0.6" fill="#D05C88"/>
<circle cx="209.96" cy="326.49" r="0.6" fill="#D05C88"/>
<circle cx="279.21" cy="326.53" r="0.6" fill="#B23E9E"/>
<circle cx="183.66" cy="327.00" r="0.6" fill="#F4A43A"/>
<circle cx="176.50" cy="327.08" r="0.6" fill="#F4A43A"/>
<circle cx="295.47" cy="326.64" r="0.6" fill="#B23E9E"/>
<circle cx="180.62" cy="326.91" r="0.6" fill="#D05C88"/>
<circle cx="301.00" cy="326.64" r="0.6" fill="#B23E9E"/>
<circle cx="201.23" cy="326.67" r="0.6" fill="#E67A62"/>
<circle cx="244.04" cy="326.60" r="0.6" fill="#F4A43A"/>
<circle cx="240.01" cy="326.59" r="0.6" fill="#E67A62"/>
<circle cx="279.48" cy="327.08" r="0.6" fill="#D05C88"/>
<circle cx="176.99" cy="326.92" r="0.6" fill="#B23E9E"/>
<circle cx="241.85" cy="326.63" r="0.6" fill="#F4A43A"/>
<circle cx="212.40" cy="326.78" r="0.8" fill="#5812C4"/>
<circle cx="312.00" cy="326.78" r="0.8" fill="#D05C88"/>
<circle cx="313.50" cy="326.78" r="0.8" fill="#D05C88"/>
<circle cx="315.60" cy="326.78" r="0.8" fill="#D05C88"/>
<circle cx="321.70" cy="326.78" r="0.8" fill="#F4A43A"/>
<circle cx="69.30" cy="334.90" r="0.8" fill="#7A22A8"/>
<circle cx="80.70" cy="334.90" r="0.8" fill="#7A22A8"/>
<circle cx="82.20" cy="334.90" r="0.8" fill="#7A22A8"/>
<circle cx="84.00" cy="334.90" r="0.8" fill="#7A22A8"/>
<circle cx="86.30" cy="334.90" r="0.8" fill="#7A22A8"/>
<circle cx="91.20" cy="334.90" r="0.8" fill="#7A22A8"/>
<circle cx="102.70" cy="334.90" r="0.8" fill="#7A22A8"/>
<circle cx="162.40" cy="334.90" r="0.8" fill="#B23E9E"/>
<rect x="164.90" y="334.15" width="132.40" height="1.50" rx="0.75" fill="url(#g6)"/>
<circle cx="274.62" cy="334.61" r="0.6" fill="#F4A43A"/>
<circle cx="262.61" cy="334.75" r="0.6" fill="#D05C88"/>
<circle cx="176.93" cy="335.00" r="0.6" fill="#E67A62"/>
<circle cx="278.82" cy="335.00" r="0.6" fill="#E67A62"/>
<circle cx="244.85" cy="335.02" r="0.6" fill="#D05C88"/>
<circle cx="227.43" cy="334.69" r="0.6" fill="#E67A62"/>
<circle cx="170.45" cy="334.82" r="0.6" fill="#E67A62"/>
<circle cx="291.58" cy="334.93" r="0.6" fill="#D05C88"/>
<circle cx="174.31" cy="335.13" r="0.6" fill="#D05C88"/>
<circle cx="214.57" cy="334.60" r="0.6" fill="#E67A62"/>
<circle cx="180.49" cy="334.77" r="0.6" fill="#F4A43A"/>
<circle cx="195.12" cy="334.90" r="0.6" fill="#D05C88"/>
<circle cx="181.36" cy="335.09" r="0.6" fill="#D05C88"/>
<circle cx="219.94" cy="334.63" r="0.6" fill="#D05C88"/>
<rect x="176.60" y="342.27" width="43.20" height="1.50" rx="0.75" fill="url(#g7)"/>
<circle cx="189.99" cy="343.10" r="0.6" fill="#E67A62"/>
<circle cx="201.42" cy="343.04" r="0.6" fill="#E67A62"/>
<circle cx="204.30" cy="343.15" r="0.6" fill="#D05C88"/>
<circle cx="193.58" cy="342.92" r="0.6" fill="#F4A43A"/>
<circle cx="183.98" cy="343.15" r="0.6" fill="#D05C88"/>
<circle cx="183.79" cy="343.21" r="0.6" fill="#D05C88"/>
<circle cx="227.80" cy="343.02" r="0.8" fill="#E67A62"/>
<rect x="233.20" y="342.27" width="60.50" height="1.50" rx="0.75" fill="url(#g8)"/>
<circle cx="276.83" cy="343.21" r="0.6" fill="#B23E9E"/>
<circle cx="286.86" cy="343.17" r="0.6" fill="#7422B4"/>
<circle cx="282.59" cy="343.20" r="0.6" fill="#7422B4"/>
<circle cx="268.29" cy="343.26" r="0.6" fill="#7422B4"/>
<circle cx="289.50" cy="343.11" r="0.6" fill="#B23E9E"/>
<circle cx="236.78" cy="342.80" r="0.6" fill="#D05C88"/>
<circle cx="289.69" cy="342.95" r="0.6" fill="#D05C88"/>
<circle cx="266.84" cy="343.10" r="0.6" fill="#7422B4"/>
<circle cx="265.29" cy="342.87" r="0.6" fill="#D05C88"/>
<circle cx="235.19" cy="343.20" r="0.6" fill="#7422B4"/>
<rect x="182.00" y="350.34" width="62.10" height="1.60" rx="0.80" fill="#F8B41C"/>
<path d="M190.00,350.72 L190.93,350.68 L191.86,350.62 L192.79,350.56 L193.71,350.49 L194.64,350.42 L195.57,350.35 L196.50,350.29 L197.43,350.23 L198.36,350.17 L199.29,350.13 L200.21,350.09 L201.14,350.06 L202.07,350.05 L203.00,350.04 L203.86,350.05 L204.71,350.06 L205.57,350.09 L206.43,350.13 L207.29,350.17 L208.14,350.23 L209.00,350.29 L209.86,350.35 L210.71,350.42 L211.57,350.49 L212.43,350.56 L213.29,350.62 L214.14,350.68 L215.00,350.72 L215.00,351.56 L214.14,351.60 L213.29,351.66 L212.43,351.72 L211.57,351.79 L210.71,351.86 L209.86,351.93 L209.00,351.99 L208.14,352.05 L207.29,352.11 L206.43,352.15 L205.57,352.19 L204.71,352.22 L203.86,352.23 L203.00,352.24 L202.07,352.23 L201.14,352.22 L200.21,352.19 L199.29,352.15 L198.36,352.11 L197.43,352.05 L196.50,351.99 L195.57,351.93 L194.64,351.86 L193.71,351.79 L192.79,351.72 L191.86,351.66 L190.93,351.60 L190.00,351.56Z" fill="#F8B41C"/>
<circle cx="244.90" cy="351.14" r="0.8" fill="#F8B41C"/>
<rect x="249.80" y="350.39" width="45.10" height="1.50" rx="0.75" fill="url(#g9)"/>
<circle cx="297.30" cy="351.14" r="0.8" fill="#F4A43A"/>
<circle cx="62.10" cy="359.26" r="0.8" fill="#B23E9E"/>
<circle cx="65.90" cy="359.26" r="0.8" fill="#B23E9E"/>
<circle cx="67.44" cy="359.26" r="0.8" fill="#7422B4"/>
<circle cx="68.98" cy="359.26" r="0.8" fill="#B23E9E"/>
<circle cx="70.51" cy="359.26" r="0.8" fill="#7422B4"/>
<circle cx="72.05" cy="359.26" r="0.8" fill="#7422B4"/>
<circle cx="73.59" cy="359.26" r="0.8" fill="#7422B4"/>
<circle cx="75.12" cy="359.26" r="0.8" fill="#B23E9E"/>
<circle cx="76.66" cy="359.26" r="0.8" fill="#B23E9E"/>
<circle cx="78.20" cy="359.26" r="0.8" fill="#B23E9E"/>
<circle cx="81.70" cy="359.26" r="0.8" fill="#B23E9E"/>
<circle cx="88.40" cy="359.26" r="0.8" fill="#B23E9E"/>
<rect x="135.30" y="358.51" width="22.70" height="1.50" rx="0.75" fill="#E8845A"/>
<circle cx="158.00" cy="359.26" r="0.8" fill="#D86C78"/>
<circle cx="159.30" cy="359.26" r="0.8" fill="#E07868"/>
<circle cx="160.60" cy="359.26" r="0.8" fill="#E07868"/>
<circle cx="161.90" cy="359.26" r="0.8" fill="#E07868"/>
<circle cx="163.20" cy="359.26" r="0.8" fill="#E07868"/>
<circle cx="164.50" cy="359.26" r="0.8" fill="#D86C78"/>
<circle cx="165.80" cy="359.26" r="0.8" fill="#D86C78"/>
<circle cx="167.10" cy="359.26" r="0.8" fill="#D86C78"/>
<circle cx="168.40" cy="359.26" r="0.8" fill="#E07868"/>
<circle cx="169.70" cy="359.26" r="0.8" fill="#E07868"/>
<circle cx="171.00" cy="359.26" r="0.8" fill="#D86C78"/>
<rect x="177.60" y="358.51" width="102.60" height="1.50" rx="0.75" fill="url(#g10)"/>
<path d="M202.00,358.84 L202.71,358.79 L203.43,358.72 L204.14,358.63 L204.86,358.54 L205.57,358.45 L206.29,358.36 L207.00,358.28 L207.71,358.20 L208.43,358.13 L209.14,358.07 L209.86,358.02 L210.57,357.99 L211.29,357.97 L212.00,357.96 L212.71,357.97 L213.43,357.99 L214.14,358.02 L214.86,358.07 L215.57,358.13 L216.29,358.20 L217.00,358.28 L217.71,358.36 L218.43,358.45 L219.14,358.54 L219.86,358.63 L220.57,358.72 L221.29,358.79 L222.00,358.84 L222.00,359.68 L221.29,359.73 L220.57,359.80 L219.86,359.89 L219.14,359.98 L218.43,360.07 L217.71,360.16 L217.00,360.24 L216.29,360.32 L215.57,360.39 L214.86,360.45 L214.14,360.50 L213.43,360.53 L212.71,360.55 L212.00,360.56 L211.29,360.55 L210.57,360.53 L209.86,360.50 L209.14,360.45 L208.43,360.39 L207.71,360.32 L207.00,360.24 L206.29,360.16 L205.57,360.07 L204.86,359.98 L204.14,359.89 L203.43,359.80 L202.71,359.73 L202.00,359.68Z" fill="#F8B41C"/>
<circle cx="285.10" cy="359.26" r="0.8" fill="#F4A43A"/>
<circle cx="51.30" cy="367.38" r="0.8" fill="#D05C88"/>
<circle cx="53.30" cy="367.38" r="0.8" fill="#D05C88"/>
<circle cx="55.40" cy="367.38" r="0.8" fill="#D05C88"/>
<circle cx="59.20" cy="367.38" r="0.8" fill="#D05C88"/>
<circle cx="60.60" cy="367.38" r="0.8" fill="#D05C88"/>
<circle cx="65.00" cy="367.38" r="0.8" fill="#7422B4"/>
<rect x="164.90" y="366.63" width="91.00" height="1.50" rx="0.75" fill="url(#g11)"/>
<circle cx="228.38" cy="367.25" r="0.6" fill="#F4A43A"/>
<circle cx="207.04" cy="367.15" r="0.6" fill="#F8B41C"/>
<circle cx="183.53" cy="367.67" r="0.6" fill="#F4A43A"/>
<circle cx="167.54" cy="367.36" r="0.6" fill="#F8B41C"/>
<circle cx="251.19" cy="367.35" r="0.6" fill="#F4A43A"/>
<circle cx="200.04" cy="367.63" r="0.6" fill="#E67A62"/>
<circle cx="172.57" cy="367.13" r="0.6" fill="#F8B41C"/>
<circle cx="212.12" cy="367.65" r="0.6" fill="#E67A62"/>
<circle cx="219.10" cy="367.46" r="0.6" fill="#F4A43A"/>
<circle cx="244.04" cy="367.50" r="0.6" fill="#E67A62"/>
<circle cx="259.00" cy="367.38" r="0.8" fill="#F4A43A"/>
<circle cx="61.20" cy="375.50" r="0.8" fill="#F8B41C"/>
<circle cx="65.00" cy="375.50" r="0.8" fill="#F8B41C"/>
<circle cx="66.62" cy="375.50" r="0.8" fill="#F8B41C"/>
<circle cx="68.24" cy="375.50" r="0.8" fill="#F8B41C"/>
<circle cx="69.86" cy="375.50" r="0.8" fill="#F8B41C"/>
<circle cx="71.48" cy="375.50" r="0.8" fill="#F8B41C"/>
<circle cx="73.11" cy="375.50" r="0.8" fill="#F8B41C"/>
<circle cx="74.73" cy="375.50" r="0.8" fill="#F8B41C"/>
<circle cx="76.35" cy="375.50" r="0.8" fill="#F8B41C"/>
<circle cx="77.97" cy="375.50" r="0.8" fill="#F8B41C"/>
<circle cx="79.59" cy="375.50" r="0.8" fill="#F8B41C"/>
<circle cx="81.21" cy="375.50" r="0.8" fill="#F8B41C"/>
<circle cx="82.83" cy="375.50" r="0.8" fill="#F8B41C"/>
<circle cx="84.45" cy="375.50" r="0.8" fill="#F8B41C"/>
<circle cx="86.07" cy="375.50" r="0.8" fill="#F8B41C"/>
<circle cx="87.69" cy="375.50" r="0.8" fill="#F8B41C"/>
<circle cx="89.32" cy="375.50" r="0.8" fill="#F8B41C"/>
<circle cx="90.94" cy="375.50" r="0.8" fill="#F8B41C"/>
<circle cx="92.56" cy="375.50" r="0.8" fill="#F8B41C"/>
<circle cx="94.18" cy="375.50" r="0.8" fill="#F8B41C"/>
<circle cx="95.80" cy="375.50" r="0.8" fill="#F8B41C"/>
<circle cx="100.00" cy="375.50" r="0.8" fill="#F8B41C"/>
<circle cx="104.50" cy="375.50" r="0.8" fill="#F8B41C"/>
<circle cx="109.00" cy="375.50" r="0.8" fill="#F8B41C"/>
<circle cx="111.00" cy="375.50" r="0.8" fill="#F8B41C"/>
<circle cx="113.00" cy="375.50" r="0.8" fill="#F8B41C"/>
<circle cx="115.00" cy="375.50" r="0.8" fill="#F8B41C"/>
<rect x="117.70" y="374.75" width="21.90" height="1.50" rx="0.75" fill="#F8B41C"/>
<circle cx="142.60" cy="375.50" r="0.8" fill="#F8B41C"/>
<circle cx="144.13" cy="375.50" r="0.8" fill="#F8B41C"/>
<circle cx="145.66" cy="375.50" r="0.8" fill="#F8B41C"/>
<circle cx="147.19" cy="375.50" r="0.8" fill="#F8B41C"/>
<circle cx="148.73" cy="375.50" r="0.8" fill="#F8B41C"/>
<circle cx="150.26" cy="375.50" r="0.8" fill="#F8B41C"/>
<circle cx="151.79" cy="375.50" r="0.8" fill="#F8B41C"/>
<circle cx="153.32" cy="375.50" r="0.8" fill="#F8B41C"/>
<circle cx="154.85" cy="375.50" r="0.8" fill="#F8B41C"/>
<circle cx="156.38" cy="375.50" r="0.8" fill="#F8B41C"/>
<circle cx="157.92" cy="375.50" r="0.8" fill="#F8B41C"/>
<circle cx="159.45" cy="375.50" r="0.8" fill="#F8B41C"/>
<circle cx="160.98" cy="375.50" r="0.8" fill="#F8B41C"/>
<circle cx="162.51" cy="375.50" r="0.8" fill="#F8B41C"/>
<circle cx="164.04" cy="375.50" r="0.8" fill="#F8B41C"/>
<circle cx="165.57" cy="375.50" r="0.8" fill="#F8B41C"/>
<circle cx="167.11" cy="375.50" r="0.8" fill="#F8B41C"/>
<circle cx="168.64" cy="375.50" r="0.8" fill="#F8B41C"/>
<circle cx="170.17" cy="375.50" r="0.8" fill="#F8B41C"/>
<circle cx="171.70" cy="375.50" r="0.8" fill="#F8B41C"/>
<rect x="188.00" y="374.75" width="47.00" height="1.50" rx="0.75" fill="url(#g12)"/>
<circle cx="235.00" cy="375.50" r="0.8" fill="#D06888"/>
<circle cx="236.22" cy="375.50" r="0.8" fill="#9A30A8"/>
<circle cx="237.45" cy="375.50" r="0.8" fill="#9A30A8"/>
<circle cx="238.68" cy="375.50" r="0.8" fill="#C85090"/>
<circle cx="239.90" cy="375.50" r="0.8" fill="#F0A040"/>
<circle cx="241.12" cy="375.50" r="0.8" fill="#F0A040"/>
<circle cx="242.35" cy="375.50" r="0.8" fill="#D06888"/>
<circle cx="243.57" cy="375.50" r="0.8" fill="#D06888"/>
<circle cx="244.80" cy="375.50" r="0.8" fill="#9A30A8"/>
<circle cx="246.03" cy="375.50" r="0.8" fill="#C85090"/>
<circle cx="247.25" cy="375.50" r="0.8" fill="#E08060"/>
<circle cx="248.47" cy="375.50" r="0.8" fill="#D06888"/>
<circle cx="249.70" cy="375.50" r="0.8" fill="#F0A040"/>
<circle cx="250.93" cy="375.50" r="0.8" fill="#9A30A8"/>
<circle cx="252.15" cy="375.50" r="0.8" fill="#C85090"/>
<circle cx="253.38" cy="375.50" r="0.8" fill="#C85090"/>
<circle cx="254.60" cy="375.50" r="0.8" fill="#D06888"/>
<circle cx="255.83" cy="375.50" r="0.8" fill="#D06888"/>
<circle cx="257.05" cy="375.50" r="0.8" fill="#E08060"/>
<circle cx="258.28" cy="375.50" r="0.8" fill="#E08060"/>
<circle cx="259.50" cy="375.50" r="0.8" fill="#E08060"/>
<circle cx="260.73" cy="375.50" r="0.8" fill="#E08060"/>
<circle cx="261.95" cy="375.50" r="0.8" fill="#E08060"/>
<circle cx="263.18" cy="375.50" r="0.8" fill="#D06888"/>
<circle cx="264.40" cy="375.50" r="0.8" fill="#C85090"/>
<circle cx="265.62" cy="375.50" r="0.8" fill="#E08060"/>
<circle cx="266.85" cy="375.50" r="0.8" fill="#D06888"/>
<circle cx="268.07" cy="375.50" r="0.8" fill="#9A30A8"/>
<circle cx="269.30" cy="375.50" r="0.8" fill="#D06888"/>
<path d="M195.40,383.20 L196.36,383.11 L197.31,382.99 L198.27,382.85 L199.23,382.70 L200.19,382.55 L201.14,382.40 L202.10,382.26 L203.06,382.13 L204.01,382.01 L204.97,381.91 L205.93,381.83 L206.89,381.77 L207.84,381.73 L208.80,381.72 L209.49,381.73 L210.19,381.77 L210.88,381.83 L211.57,381.91 L212.26,382.01 L212.96,382.13 L213.65,382.26 L214.34,382.40 L215.04,382.55 L215.73,382.70 L216.42,382.85 L217.11,382.99 L217.81,383.11 L218.50,383.20 L218.50,384.04 L217.81,384.13 L217.11,384.25 L216.42,384.39 L215.73,384.54 L215.04,384.69 L214.34,384.84 L213.65,384.98 L212.96,385.11 L212.26,385.23 L211.57,385.33 L210.88,385.41 L210.19,385.47 L209.49,385.51 L208.80,385.52 L207.84,385.51 L206.89,385.47 L205.93,385.41 L204.97,385.33 L204.01,385.23 L203.06,385.11 L202.10,384.98 L201.14,384.84 L200.19,384.69 L199.23,384.54 L198.27,384.39 L197.31,384.25 L196.36,384.13 L195.40,384.04Z" fill="#8420B4"/>
<circle cx="219.00" cy="383.62" r="0.8" fill="#B23E9E"/>
<circle cx="244.90" cy="383.62" r="0.8" fill="#B23E9E"/>
<circle cx="246.07" cy="383.62" r="0.8" fill="#B23E9E"/>
<circle cx="247.24" cy="383.62" r="0.8" fill="#7422B4"/>
<circle cx="248.40" cy="383.62" r="0.8" fill="#B23E9E"/>
<circle cx="249.57" cy="383.62" r="0.8" fill="#7422B4"/>
<circle cx="250.74" cy="383.62" r="0.8" fill="#5812C4"/>
<circle cx="251.91" cy="383.62" r="0.8" fill="#7422B4"/>
<circle cx="253.08" cy="383.62" r="0.8" fill="#B23E9E"/>
<circle cx="254.24" cy="383.62" r="0.8" fill="#5812C4"/>
<circle cx="255.41" cy="383.62" r="0.8" fill="#F4B030"/>
<circle cx="256.58" cy="383.62" r="0.8" fill="#5812C4"/>
<circle cx="257.75" cy="383.62" r="0.8" fill="#5812C4"/>
<circle cx="258.92" cy="383.62" r="0.8" fill="#B23E9E"/>
<circle cx="260.08" cy="383.62" r="0.8" fill="#7422B4"/>
<circle cx="261.25" cy="383.62" r="0.8" fill="#B23E9E"/>
<circle cx="262.42" cy="383.62" r="0.8" fill="#B23E9E"/>
<circle cx="263.59" cy="383.62" r="0.8" fill="#7422B4"/>
<circle cx="264.76" cy="383.62" r="0.8" fill="#B23E9E"/>
<circle cx="265.92" cy="383.62" r="0.8" fill="#F4B030"/>
<circle cx="267.09" cy="383.62" r="0.8" fill="#7422B4"/>
<circle cx="268.26" cy="383.62" r="0.8" fill="#7422B4"/>
<circle cx="269.43" cy="383.62" r="0.8" fill="#F4B030"/>
<circle cx="270.60" cy="383.62" r="0.8" fill="#B23E9E"/>
<circle cx="271.76" cy="383.62" r="0.8" fill="#F4B030"/>
<circle cx="272.93" cy="383.62" r="0.8" fill="#F4B030"/>
<circle cx="274.10" cy="383.62" r="0.8" fill="#7422B4"/>
<rect x="155.40" y="390.89" width="32.40" height="1.70" rx="0.85" fill="#F8B41C"/>
<path d="M219.80,391.32 L220.42,391.22 L221.04,391.08 L221.66,390.92 L222.29,390.75 L222.91,390.58 L223.53,390.41 L224.15,390.25 L224.77,390.10 L225.39,389.97 L226.01,389.85 L226.64,389.76 L227.26,389.69 L227.88,389.65 L228.50,389.64 L229.61,389.65 L230.71,389.69 L231.82,389.76 L232.93,389.85 L234.04,389.97 L235.14,390.10 L236.25,390.25 L237.36,390.41 L238.46,390.58 L239.57,390.75 L240.68,390.92 L241.79,391.08 L242.89,391.22 L244.00,391.32 L244.00,392.16 L242.89,392.26 L241.79,392.40 L240.68,392.56 L239.57,392.73 L238.46,392.90 L237.36,393.07 L236.25,393.23 L235.14,393.38 L234.04,393.51 L232.93,393.63 L231.82,393.72 L230.71,393.79 L229.61,393.83 L228.50,393.84 L227.88,393.83 L227.26,393.79 L226.64,393.72 L226.01,393.63 L225.39,393.51 L224.77,393.38 L224.15,393.23 L223.53,393.07 L222.91,392.90 L222.29,392.73 L221.66,392.56 L221.04,392.40 L220.42,392.26 L219.80,392.16Z" fill="#5E10CC"/>
<circle cx="154.40" cy="399.86" r="0.8" fill="#EE9448"/>
<circle cx="156.66" cy="399.86" r="0.8" fill="#EE9448"/>
<circle cx="158.93" cy="399.86" r="0.8" fill="#EE9448"/>
<circle cx="161.19" cy="399.86" r="0.8" fill="#EE9448"/>
<circle cx="163.45" cy="399.86" r="0.8" fill="#EE9448"/>
<circle cx="165.72" cy="399.86" r="0.8" fill="#EE9448"/>
<circle cx="167.98" cy="399.86" r="0.8" fill="#EE9448"/>
<circle cx="170.25" cy="399.86" r="0.8" fill="#EE9448"/>
<circle cx="172.51" cy="399.86" r="0.8" fill="#EE9448"/>
<circle cx="174.77" cy="399.86" r="0.8" fill="#EE9448"/>
<circle cx="177.04" cy="399.86" r="0.8" fill="#EE9448"/>
<circle cx="179.30" cy="399.86" r="0.8" fill="#EE9448"/>
<rect x="193.90" y="399.11" width="95.40" height="1.50" rx="0.75" fill="url(#g13)"/>
<path d="M204.00,399.44 L204.57,399.39 L205.14,399.33 L205.71,399.26 L206.29,399.18 L206.86,399.10 L207.43,399.02 L208.00,398.94 L208.57,398.87 L209.14,398.81 L209.71,398.76 L210.29,398.72 L210.86,398.69 L211.43,398.67 L212.00,398.66 L212.50,398.67 L213.00,398.69 L213.50,398.72 L214.00,398.76 L214.50,398.81 L215.00,398.87 L215.50,398.94 L216.00,399.02 L216.50,399.10 L217.00,399.18 L217.50,399.26 L218.00,399.33 L218.50,399.39 L219.00,399.44 L219.00,400.28 L218.50,400.33 L218.00,400.39 L217.50,400.46 L217.00,400.54 L216.50,400.62 L216.00,400.70 L215.50,400.78 L215.00,400.85 L214.50,400.91 L214.00,400.96 L213.50,401.00 L213.00,401.03 L212.50,401.05 L212.00,401.06 L211.43,401.05 L210.86,401.03 L210.29,401.00 L209.71,400.96 L209.14,400.91 L208.57,400.85 L208.00,400.78 L207.43,400.70 L206.86,400.62 L206.29,400.54 L205.71,400.46 L205.14,400.39 L204.57,400.33 L204.00,400.28Z" fill="#E07474"/>
<circle cx="261.18" cy="399.78" r="0.6" fill="#6A1AB8"/>
<circle cx="256.71" cy="399.94" r="0.6" fill="#7422B4"/>
<circle cx="230.83" cy="400.10" r="0.6" fill="#B23E9E"/>
<circle cx="250.18" cy="399.83" r="0.6" fill="#B23E9E"/>
<circle cx="278.47" cy="400.08" r="0.6" fill="#7422B4"/>
<circle cx="233.02" cy="399.82" r="0.6" fill="#B23E9E"/>
<circle cx="286.00" cy="399.85" r="0.6" fill="#7422B4"/>
<circle cx="249.67" cy="400.12" r="0.6" fill="#6A1AB8"/>
<circle cx="278.89" cy="400.14" r="0.6" fill="#7422B4"/>
<circle cx="274.34" cy="399.69" r="0.6" fill="#7422B4"/>
<circle cx="257.91" cy="399.97" r="0.6" fill="#6A1AB8"/>
<circle cx="269.16" cy="400.07" r="0.6" fill="#B23E9E"/>
<circle cx="230.36" cy="400.03" r="0.6" fill="#7422B4"/>
<circle cx="274.28" cy="399.70" r="0.6" fill="#7422B4"/>
<rect x="159.80" y="407.23" width="30.40" height="1.50" rx="0.75" fill="#F8B41C"/>
<circle cx="200.00" cy="407.98" r="0.8" fill="#F8B41C"/>
<circle cx="202.40" cy="407.98" r="0.8" fill="#F8B41C"/>
<circle cx="203.50" cy="407.98" r="0.8" fill="#F8B41C"/>
<circle cx="204.90" cy="407.98" r="0.8" fill="#F8B41C"/>
<rect x="205.00" y="407.23" width="64.80" height="1.50" rx="0.75" fill="url(#g14)"/>
<path d="M205.00,407.56 L205.57,407.50 L206.14,407.42 L206.71,407.33 L207.29,407.23 L207.86,407.13 L208.43,407.03 L209.00,406.94 L209.57,406.85 L210.14,406.77 L210.71,406.70 L211.29,406.65 L211.86,406.61 L212.43,406.59 L213.00,406.58 L213.57,406.59 L214.14,406.61 L214.71,406.65 L215.29,406.70 L215.86,406.77 L216.43,406.85 L217.00,406.94 L217.57,407.03 L218.14,407.13 L218.71,407.23 L219.29,407.33 L219.86,407.42 L220.43,407.50 L221.00,407.56 L221.00,408.40 L220.43,408.46 L219.86,408.54 L219.29,408.63 L218.71,408.73 L218.14,408.83 L217.57,408.93 L217.00,409.02 L216.43,409.11 L215.86,409.19 L215.29,409.26 L214.71,409.31 L214.14,409.35 L213.57,409.37 L213.00,409.38 L212.43,409.37 L211.86,409.35 L211.29,409.31 L210.71,409.26 L210.14,409.19 L209.57,409.11 L209.00,409.02 L208.43,408.93 L207.86,408.83 L207.29,408.73 L206.71,408.63 L206.14,408.54 L205.57,408.46 L205.00,408.40Z" fill="#F4AA40"/>
<circle cx="262.46" cy="407.75" r="0.6" fill="#7422B4"/>
<circle cx="252.51" cy="408.25" r="0.6" fill="#7422B4"/>
<circle cx="254.70" cy="407.81" r="0.6" fill="#7422B4"/>
<circle cx="245.26" cy="407.86" r="0.6" fill="#B23E9E"/>
<circle cx="251.97" cy="407.87" r="0.6" fill="#7422B4"/>
<circle cx="256.88" cy="407.82" r="0.6" fill="#7422B4"/>
<circle cx="245.73" cy="407.93" r="0.6" fill="#B23E9E"/>
<circle cx="246.38" cy="407.80" r="0.6" fill="#B23E9E"/>
<circle cx="273.40" cy="407.98" r="0.8" fill="#B23E9E"/>
<rect x="187.80" y="415.35" width="84.40" height="1.50" rx="0.75" fill="url(#g15)"/>
<circle cx="247.97" cy="416.20" r="0.6" fill="#B23E9E"/>
<circle cx="247.03" cy="415.82" r="0.6" fill="#B23E9E"/>
<circle cx="262.27" cy="416.02" r="0.6" fill="#B23E9E"/>
<circle cx="246.14" cy="416.28" r="0.6" fill="#7422B4"/>
<circle cx="246.36" cy="416.38" r="0.6" fill="#B23E9E"/>
<circle cx="263.74" cy="415.92" r="0.6" fill="#B23E9E"/>
<circle cx="246.86" cy="416.26" r="0.6" fill="#B23E9E"/>
<circle cx="243.38" cy="416.17" r="0.6" fill="#7422B4"/>
<rect x="198.80" y="423.47" width="57.50" height="1.50" rx="0.75" fill="#F8B41C"/>
<path d="M203.00,423.80 L203.79,423.75 L204.57,423.68 L205.36,423.59 L206.14,423.50 L206.93,423.41 L207.71,423.32 L208.50,423.24 L209.29,423.16 L210.07,423.09 L210.86,423.03 L211.64,422.98 L212.43,422.95 L213.21,422.93 L214.00,422.92 L215.57,422.93 L217.14,422.95 L218.71,422.98 L220.29,423.03 L221.86,423.09 L223.43,423.16 L225.00,423.24 L226.57,423.32 L228.14,423.41 L229.71,423.50 L231.29,423.59 L232.86,423.68 L234.43,423.75 L236.00,423.80 L236.00,424.64 L234.43,424.69 L232.86,424.76 L231.29,424.85 L229.71,424.94 L228.14,425.03 L226.57,425.12 L225.00,425.20 L223.43,425.28 L221.86,425.35 L220.29,425.41 L218.71,425.46 L217.14,425.49 L215.57,425.51 L214.00,425.52 L213.21,425.51 L212.43,425.49 L211.64,425.46 L210.86,425.41 L210.07,425.35 L209.29,425.28 L208.50,425.20 L207.71,425.12 L206.93,425.03 L206.14,424.94 L205.36,424.85 L204.57,424.76 L203.79,424.69 L203.00,424.64Z" fill="#F8B41C"/>
<rect x="189.00" y="431.59" width="52.70" height="1.50" rx="0.75" fill="#5A12C4"/>
<path d="M222.00,431.92 L222.64,431.87 L223.29,431.80 L223.93,431.71 L224.57,431.62 L225.21,431.53 L225.86,431.44 L226.50,431.36 L227.14,431.28 L227.79,431.21 L228.43,431.15 L229.07,431.10 L229.71,431.07 L230.36,431.05 L231.00,431.04 L231.64,431.05 L232.29,431.07 L232.93,431.10 L233.57,431.15 L234.21,431.21 L234.86,431.28 L235.50,431.36 L236.14,431.44 L236.79,431.53 L237.43,431.62 L238.07,431.71 L238.71,431.80 L239.36,431.87 L240.00,431.92 L240.00,432.76 L239.36,432.81 L238.71,432.88 L238.07,432.97 L237.43,433.06 L236.79,433.15 L236.14,433.24 L235.50,433.32 L234.86,433.40 L234.21,433.47 L233.57,433.53 L232.93,433.58 L232.29,433.61 L231.64,433.63 L231.00,433.64 L230.36,433.63 L229.71,433.61 L229.07,433.58 L228.43,433.53 L227.79,433.47 L227.14,433.40 L226.50,433.32 L225.86,433.24 L225.21,433.15 L224.57,433.06 L223.93,432.97 L223.29,432.88 L222.64,432.81 L222.00,432.76Z" fill="#5A12C4"/>
<circle cx="54.80" cy="440.46" r="0.85" fill="#F8B41C"/>
<circle cx="56.50" cy="440.46" r="0.85" fill="#F8B41C"/>
<circle cx="58.20" cy="440.46" r="0.85" fill="#F8B41C"/>
<circle cx="60.00" cy="440.46" r="0.85" fill="#F8B41C"/>
<circle cx="64.10" cy="440.46" r="0.85" fill="#F8B41C"/>
<circle cx="65.60" cy="440.46" r="0.85" fill="#F8B41C"/>
<circle cx="67.10" cy="440.46" r="0.85" fill="#F8B41C"/>
<circle cx="70.90" cy="440.46" r="0.85" fill="#F8B41C"/>
<circle cx="72.40" cy="440.46" r="0.85" fill="#F8B41C"/>
<circle cx="73.80" cy="440.46" r="0.85" fill="#F8B41C"/>
<circle cx="77.60" cy="440.46" r="0.85" fill="#F8B41C"/>
<circle cx="79.00" cy="440.46" r="0.85" fill="#F8B41C"/>
<circle cx="80.50" cy="440.46" r="0.85" fill="#F8B41C"/>
<circle cx="84.00" cy="440.46" r="0.85" fill="#F8B41C"/>
<circle cx="91.40" cy="440.46" r="0.85" fill="#F8B41C"/>
<circle cx="98.70" cy="440.46" r="0.85" fill="#F8B41C"/>
<circle cx="100.50" cy="440.46" r="0.85" fill="#F8B41C"/>
<circle cx="102.50" cy="440.46" r="0.85" fill="#F8B41C"/>
<circle cx="104.50" cy="440.46" r="0.85" fill="#F8B41C"/>
<rect x="107.50" y="439.66" width="30.70" height="1.60" rx="0.80" fill="#F8B41C"/>
<circle cx="141.10" cy="440.46" r="0.8" fill="#F8B41C"/>
<circle cx="220.00" cy="440.46" r="0.8" fill="#F4A43A"/>
<path d="M220.20,440.11 L220.51,439.72 L220.83,439.43 L221.14,439.22 L221.46,439.06 L221.77,438.93 L222.09,438.82 L222.40,438.73 L222.71,438.65 L223.03,438.59 L223.34,438.54 L223.66,438.51 L223.97,438.48 L224.29,438.47 L224.60,438.46 L225.13,438.69 L225.66,438.89 L226.19,439.08 L226.71,439.25 L227.24,439.40 L227.77,439.53 L228.30,439.64 L228.83,439.74 L229.36,439.81 L229.89,439.87 L230.41,439.92 L230.94,439.95 L231.47,439.97 L232.00,439.97 L232.00,440.95 L231.47,440.95 L230.94,440.97 L230.41,441.00 L229.89,441.05 L229.36,441.11 L228.83,441.18 L228.30,441.28 L227.77,441.39 L227.24,441.52 L226.71,441.67 L226.19,441.84 L225.66,442.03 L225.13,442.23 L224.60,442.46 L224.29,442.45 L223.97,442.44 L223.66,442.41 L223.34,442.38 L223.03,442.33 L222.71,442.27 L222.40,442.19 L222.09,442.10 L221.77,441.99 L221.46,441.86 L221.14,441.70 L220.83,441.49 L220.51,441.20 L220.20,440.81Z" fill="#F0A058"/>
<circle cx="222.91" cy="440.55" r="0.5" fill="#B23E9E"/>
<circle cx="221.32" cy="440.56" r="0.5" fill="#B23E9E"/>
<circle cx="229.39" cy="440.75" r="0.5" fill="#B23E9E"/>
<circle cx="222.69" cy="440.16" r="0.5" fill="#B23E9E"/>
<circle cx="221.81" cy="440.41" r="0.5" fill="#7422B4"/>
<circle cx="226.61" cy="440.62" r="0.5" fill="#B23E9E"/>
<rect x="232.00" y="439.71" width="13.40" height="1.50" rx="0.75" fill="#E07C6E"/>
<rect x="192.00" y="447.78" width="22.90" height="1.60" rx="0.80" fill="#5E12C4"/>
<path d="M222.20,448.16 L222.58,448.09 L222.96,447.98 L223.34,447.86 L223.71,447.73 L224.09,447.60 L224.47,447.47 L224.85,447.34 L225.23,447.23 L225.61,447.13 L225.99,447.04 L226.36,446.97 L226.74,446.92 L227.12,446.89 L227.50,446.88 L228.25,446.89 L229.00,446.92 L229.75,446.97 L230.50,447.04 L231.25,447.13 L232.00,447.23 L232.75,447.34 L233.50,447.47 L234.25,447.60 L235.00,447.73 L235.75,447.86 L236.50,447.98 L237.25,448.09 L238.00,448.16 L238.00,449.00 L237.25,449.07 L236.50,449.18 L235.75,449.30 L235.00,449.43 L234.25,449.56 L233.50,449.69 L232.75,449.82 L232.00,449.93 L231.25,450.03 L230.50,450.12 L229.75,450.19 L229.00,450.24 L228.25,450.27 L227.50,450.28 L227.12,450.27 L226.74,450.24 L226.36,450.19 L225.99,450.12 L225.61,450.03 L225.23,449.93 L224.85,449.82 L224.47,449.69 L224.09,449.56 L223.71,449.43 L223.34,449.30 L222.96,449.18 L222.58,449.07 L222.20,449.00Z" fill="#F8B41C"/>
<path d="M203.90,456.28 L204.42,456.21 L204.94,456.11 L205.46,456.00 L205.99,455.88 L206.51,455.76 L207.03,455.64 L207.55,455.53 L208.07,455.42 L208.59,455.33 L209.11,455.25 L209.64,455.19 L210.16,455.14 L210.68,455.11 L211.20,455.10 L211.81,455.11 L212.43,455.14 L213.04,455.19 L213.66,455.25 L214.27,455.33 L214.89,455.42 L215.50,455.53 L216.11,455.64 L216.73,455.76 L217.34,455.88 L217.96,456.00 L218.57,456.11 L219.19,456.21 L219.80,456.28 L219.80,457.12 L219.19,457.19 L218.57,457.29 L217.96,457.40 L217.34,457.52 L216.73,457.64 L216.11,457.76 L215.50,457.87 L214.89,457.98 L214.27,458.07 L213.66,458.15 L213.04,458.21 L212.43,458.26 L211.81,458.29 L211.20,458.30 L210.68,458.29 L210.16,458.26 L209.64,458.21 L209.11,458.15 L208.59,458.07 L208.07,457.98 L207.55,457.87 L207.03,457.76 L206.51,457.64 L205.99,457.52 L205.46,457.40 L204.94,457.29 L204.42,457.19 L203.90,457.12Z" fill="#F8B41C"/>
<rect x="222.20" y="455.95" width="24.10" height="1.50" rx="0.75" fill="#5812C4"/>
<path d="M223.00,456.28 L223.57,456.23 L224.14,456.17 L224.71,456.10 L225.29,456.02 L225.86,455.94 L226.43,455.86 L227.00,455.78 L227.57,455.71 L228.14,455.65 L228.71,455.60 L229.29,455.56 L229.86,455.53 L230.43,455.51 L231.00,455.50 L231.93,455.51 L232.86,455.53 L233.79,455.56 L234.71,455.60 L235.64,455.65 L236.57,455.71 L237.50,455.78 L238.43,455.86 L239.36,455.94 L240.29,456.02 L241.21,456.10 L242.14,456.17 L243.07,456.23 L244.00,456.28 L244.00,457.12 L243.07,457.17 L242.14,457.23 L241.21,457.30 L240.29,457.38 L239.36,457.46 L238.43,457.54 L237.50,457.62 L236.57,457.69 L235.64,457.75 L234.71,457.80 L233.79,457.84 L232.86,457.87 L231.93,457.89 L231.00,457.90 L230.43,457.89 L229.86,457.87 L229.29,457.84 L228.71,457.80 L228.14,457.75 L227.57,457.69 L227.00,457.62 L226.43,457.54 L225.86,457.46 L225.29,457.38 L224.71,457.30 L224.14,457.23 L223.57,457.17 L223.00,457.12Z" fill="#5812C4"/>
<rect x="169.80" y="464.17" width="26.80" height="1.30" rx="0.65" fill="#F8B41C"/>
<path d="M219.80,464.47 L220.07,463.71 L220.34,463.27 L220.61,462.96 L220.89,462.72 L221.16,462.52 L221.43,462.36 L221.70,462.22 L221.97,462.11 L222.24,462.02 L222.51,461.95 L222.79,461.89 L223.06,461.85 L223.33,461.83 L223.60,461.82 L224.34,462.20 L225.09,462.54 L225.83,462.85 L226.57,463.13 L227.31,463.38 L228.06,463.60 L228.80,463.78 L229.54,463.94 L230.29,464.07 L231.03,464.17 L231.77,464.25 L232.51,464.30 L233.26,464.32 L234.00,464.33 L234.00,465.31 L233.26,465.32 L232.51,465.34 L231.77,465.39 L231.03,465.47 L230.29,465.57 L229.54,465.70 L228.80,465.86 L228.06,466.04 L227.31,466.26 L226.57,466.51 L225.83,466.79 L225.09,467.10 L224.34,467.44 L223.60,467.82 L223.33,467.81 L223.06,467.79 L222.79,467.75 L222.51,467.69 L222.24,467.62 L221.97,467.53 L221.70,467.42 L221.43,467.28 L221.16,467.12 L220.89,466.92 L220.61,466.68 L220.34,466.37 L220.07,465.93 L219.80,465.17Z" fill="#5E10CC"/>
<circle cx="132.30" cy="472.94" r="0.8" fill="#F8B41C"/>
<circle cx="137.30" cy="472.94" r="0.8" fill="#F8B41C"/>
<circle cx="142.60" cy="472.94" r="0.8" fill="#F8B41C"/>
<circle cx="144.40" cy="472.94" r="0.8" fill="#F8B41C"/>
<circle cx="146.10" cy="472.94" r="0.8" fill="#F8B41C"/>
<circle cx="179.00" cy="472.94" r="0.8" fill="#F8B41C"/>
<circle cx="182.00" cy="472.94" r="0.8" fill="#F8B41C"/>
<rect x="184.40" y="472.19" width="35.40" height="1.50" rx="0.75" fill="#F8B41C"/>
<path d="M220.40,472.59 L220.63,472.01 L220.86,471.65 L221.09,471.39 L221.31,471.19 L221.54,471.03 L221.77,470.89 L222.00,470.77 L222.23,470.68 L222.46,470.60 L222.69,470.54 L222.91,470.50 L223.14,470.47 L223.37,470.45 L223.60,470.44 L223.95,470.74 L224.30,471.02 L224.65,471.27 L225.00,471.49 L225.35,471.69 L225.70,471.86 L226.05,472.01 L226.40,472.14 L226.75,472.24 L227.10,472.32 L227.45,472.38 L227.80,472.42 L228.15,472.44 L228.50,472.45 L228.50,473.43 L228.15,473.44 L227.80,473.46 L227.45,473.50 L227.10,473.56 L226.75,473.64 L226.40,473.74 L226.05,473.87 L225.70,474.02 L225.35,474.19 L225.00,474.39 L224.65,474.61 L224.30,474.86 L223.95,475.14 L223.60,475.44 L223.37,475.43 L223.14,475.41 L222.91,475.38 L222.69,475.34 L222.46,475.28 L222.23,475.20 L222.00,475.11 L221.77,474.99 L221.54,474.85 L221.31,474.69 L221.09,474.49 L220.86,474.23 L220.63,473.87 L220.40,473.29Z" fill="#F0A050"/>
<circle cx="223.61" cy="473.19" r="0.5" fill="#7422B4"/>
<circle cx="223.26" cy="473.08" r="0.5" fill="#7422B4"/>
<circle cx="221.21" cy="472.89" r="0.5" fill="#7422B4"/>
<circle cx="229.50" cy="472.94" r="0.8" fill="#7422B4"/>
<circle cx="231.25" cy="472.94" r="0.8" fill="#5812C4"/>
<circle cx="233.00" cy="472.94" r="0.8" fill="#7422B4"/>
<circle cx="234.75" cy="472.94" r="0.8" fill="#5812C4"/>
<circle cx="236.50" cy="472.94" r="0.8" fill="#7422B4"/>
<circle cx="238.25" cy="472.94" r="0.8" fill="#7422B4"/>
<circle cx="240.00" cy="472.94" r="0.8" fill="#5812C4"/>
<rect x="251.50" y="472.24" width="15.50" height="1.40" rx="0.70" fill="#5E14C4"/>
<circle cx="274.40" cy="472.94" r="0.8" fill="#5812C4"/>
<path d="M206.50,480.64 L207.07,480.54 L207.64,480.39 L208.21,480.22 L208.79,480.04 L209.36,479.86 L209.93,479.68 L210.50,479.51 L211.07,479.35 L211.64,479.21 L212.21,479.09 L212.79,478.99 L213.36,478.92 L213.93,478.87 L214.50,478.86 L214.89,478.87 L215.29,478.92 L215.68,478.99 L216.07,479.09 L216.46,479.21 L216.86,479.35 L217.25,479.51 L217.64,479.68 L218.04,479.86 L218.43,480.04 L218.82,480.22 L219.21,480.39 L219.61,480.54 L220.00,480.64 L220.00,481.48 L219.61,481.58 L219.21,481.73 L218.82,481.90 L218.43,482.08 L218.04,482.26 L217.64,482.44 L217.25,482.61 L216.86,482.77 L216.46,482.91 L216.07,483.03 L215.68,483.13 L215.29,483.20 L214.89,483.25 L214.50,483.26 L213.93,483.25 L213.36,483.20 L212.79,483.13 L212.21,483.03 L211.64,482.91 L211.07,482.77 L210.50,482.61 L209.93,482.44 L209.36,482.26 L208.79,482.08 L208.21,481.90 L207.64,481.73 L207.07,481.58 L206.50,481.48Z" fill="#B03CA4"/>
<path d="M224.40,480.64 L224.94,480.59 L225.49,480.52 L226.03,480.43 L226.57,480.34 L227.11,480.25 L227.66,480.16 L228.20,480.08 L228.74,480.00 L229.29,479.93 L229.83,479.87 L230.37,479.82 L230.91,479.79 L231.46,479.77 L232.00,479.76 L232.68,479.77 L233.36,479.79 L234.04,479.82 L234.71,479.87 L235.39,479.93 L236.07,480.00 L236.75,480.08 L237.43,480.16 L238.11,480.25 L238.79,480.34 L239.46,480.43 L240.14,480.52 L240.82,480.59 L241.50,480.64 L241.50,481.48 L240.82,481.53 L240.14,481.60 L239.46,481.69 L238.79,481.78 L238.11,481.87 L237.43,481.96 L236.75,482.04 L236.07,482.12 L235.39,482.19 L234.71,482.25 L234.04,482.30 L233.36,482.33 L232.68,482.35 L232.00,482.36 L231.46,482.35 L230.91,482.33 L230.37,482.30 L229.83,482.25 L229.29,482.19 L228.74,482.12 L228.20,482.04 L227.66,481.96 L227.11,481.87 L226.57,481.78 L226.03,481.69 L225.49,481.60 L224.94,481.53 L224.40,481.48Z" fill="#B03CA4"/>
<path d="M210.50,488.76 L210.89,488.65 L211.29,488.48 L211.68,488.29 L212.07,488.09 L212.46,487.89 L212.86,487.69 L213.25,487.50 L213.64,487.32 L214.04,487.17 L214.43,487.03 L214.82,486.92 L215.21,486.84 L215.61,486.80 L216.00,486.78 L216.29,486.80 L216.57,486.84 L216.86,486.92 L217.14,487.03 L217.43,487.17 L217.71,487.32 L218.00,487.50 L218.29,487.69 L218.57,487.89 L218.86,488.09 L219.14,488.29 L219.43,488.48 L219.71,488.65 L220.00,488.76 L220.00,489.60 L219.71,489.71 L219.43,489.88 L219.14,490.07 L218.86,490.27 L218.57,490.47 L218.29,490.67 L218.00,490.86 L217.71,491.04 L217.43,491.19 L217.14,491.33 L216.86,491.44 L216.57,491.52 L216.29,491.56 L216.00,491.58 L215.61,491.56 L215.21,491.52 L214.82,491.44 L214.43,491.33 L214.04,491.19 L213.64,491.04 L213.25,490.86 L212.86,490.67 L212.46,490.47 L212.07,490.27 L211.68,490.07 L211.29,489.88 L210.89,489.71 L210.50,489.60Z" fill="#E8806C"/>
<path d="M223.00,488.76 L223.64,488.71 L224.29,488.64 L224.93,488.55 L225.57,488.46 L226.21,488.37 L226.86,488.28 L227.50,488.20 L228.14,488.12 L228.79,488.05 L229.43,487.99 L230.07,487.94 L230.71,487.91 L231.36,487.89 L232.00,487.88 L232.43,487.89 L232.86,487.91 L233.29,487.94 L233.71,487.99 L234.14,488.05 L234.57,488.12 L235.00,488.20 L235.43,488.28 L235.86,488.37 L236.29,488.46 L236.71,488.55 L237.14,488.64 L237.57,488.71 L238.00,488.76 L238.00,489.60 L237.57,489.65 L237.14,489.72 L236.71,489.81 L236.29,489.90 L235.86,489.99 L235.43,490.08 L235.00,490.16 L234.57,490.24 L234.14,490.31 L233.71,490.37 L233.29,490.42 L232.86,490.45 L232.43,490.47 L232.00,490.48 L231.36,490.47 L230.71,490.45 L230.07,490.42 L229.43,490.37 L228.79,490.31 L228.14,490.24 L227.50,490.16 L226.86,490.08 L226.21,489.99 L225.57,489.90 L224.93,489.81 L224.29,489.72 L223.64,489.65 L223.00,489.60Z" fill="#E0707C"/>
<rect x="185.60" y="496.55" width="13.40" height="1.50" rx="0.75" fill="#F8B41C"/>
<path d="M202.70,496.88 L203.15,496.83 L203.60,496.76 L204.05,496.67 L204.50,496.58 L204.95,496.49 L205.40,496.40 L205.85,496.32 L206.30,496.24 L206.75,496.17 L207.20,496.11 L207.65,496.06 L208.10,496.03 L208.55,496.01 L209.00,496.00 L209.23,496.01 L209.46,496.03 L209.69,496.06 L209.91,496.11 L210.14,496.17 L210.37,496.24 L210.60,496.32 L210.83,496.40 L211.06,496.49 L211.29,496.58 L211.51,496.67 L211.74,496.76 L211.97,496.83 L212.20,496.88 L212.20,497.72 L211.97,497.77 L211.74,497.84 L211.51,497.93 L211.29,498.02 L211.06,498.11 L210.83,498.20 L210.60,498.28 L210.37,498.36 L210.14,498.43 L209.91,498.49 L209.69,498.54 L209.46,498.57 L209.23,498.59 L209.00,498.60 L208.55,498.59 L208.10,498.57 L207.65,498.54 L207.20,498.49 L206.75,498.43 L206.30,498.36 L205.85,498.28 L205.40,498.20 L204.95,498.11 L204.50,498.02 L204.05,497.93 L203.60,497.84 L203.15,497.77 L202.70,497.72Z" fill="#F8B41C"/>
<path d="M219.80,496.95 L220.00,496.00 L220.20,495.50 L220.40,495.13 L220.60,494.85 L220.80,494.62 L221.00,494.43 L221.20,494.27 L221.40,494.14 L221.60,494.03 L221.80,493.95 L222.00,493.88 L222.20,493.84 L222.40,493.81 L222.60,493.80 L223.51,494.25 L224.43,494.67 L225.34,495.04 L226.26,495.37 L227.17,495.67 L228.09,495.93 L229.00,496.15 L229.91,496.34 L230.83,496.50 L231.74,496.62 L232.66,496.71 L233.57,496.77 L234.49,496.80 L235.40,496.81 L235.40,497.79 L234.49,497.80 L233.57,497.83 L232.66,497.89 L231.74,497.98 L230.83,498.10 L229.91,498.26 L229.00,498.45 L228.09,498.67 L227.17,498.93 L226.26,499.23 L225.34,499.56 L224.43,499.93 L223.51,500.35 L222.60,500.80 L222.40,500.79 L222.20,500.76 L222.00,500.72 L221.80,500.65 L221.60,500.57 L221.40,500.46 L221.20,500.33 L221.00,500.17 L220.80,499.98 L220.60,499.75 L220.40,499.47 L220.20,499.10 L220.00,498.60 L219.80,497.65Z" fill="#5E10CC"/></g>
<line x1="220.3" y1="289.5" x2="220.3" y2="501.3" stroke="#333" stroke-width="0.8"/>
<rect x="34.4" y="289.5" width="371.20" height="211.80" fill="none" stroke="#909090" stroke-width="1.0"/>
<line x1="406.60" y1="290.0" x2="406.60" y2="501.7" stroke="#C4C4C4" stroke-width="0.8"/>
<line x1="84.30" y1="501.3" x2="84.30" y2="502.8" stroke="#555" stroke-width="0.6"/>
<text x="84.30" y="507.5" font-size="4.6" fill="#333" text-anchor="middle">−1.0</text>
<line x1="152.30" y1="501.3" x2="152.30" y2="502.8" stroke="#555" stroke-width="0.6"/>
<text x="152.30" y="507.5" font-size="4.6" fill="#333" text-anchor="middle">−0.5</text>
<line x1="220.30" y1="501.3" x2="220.30" y2="502.8" stroke="#555" stroke-width="0.6"/>
<text x="220.30" y="507.5" font-size="4.6" fill="#333" text-anchor="middle">0.0</text>
<line x1="288.30" y1="501.3" x2="288.30" y2="502.8" stroke="#555" stroke-width="0.6"/>
<text x="288.30" y="507.5" font-size="4.6" fill="#333" text-anchor="middle">0.5</text>
<line x1="356.30" y1="501.3" x2="356.30" y2="502.8" stroke="#555" stroke-width="0.6"/>
<text x="356.30" y="507.5" font-size="4.6" fill="#333" text-anchor="middle">1.0</text>
<text x="220.2" y="513" font-size="4.75" fill="#111" stroke="#111" stroke-width="0.1" text-anchor="middle">SHAP value (impact on model output)</text>
<text x="185.4" y="527" font-size="4.68" fill="#111" stroke="#111" stroke-width="0.05">Feature value</text>
<rect x="217.1" y="519" width="38" height="6.7" fill="url(#sg)"/>
<text x="216.9" y="530.9" font-size="4.05" fill="#222" stroke="#222" stroke-width="0.08" text-anchor="middle">Low</text>
<text x="254.2" y="530.9" font-size="4.1" fill="#222" stroke="#222" stroke-width="0.08" text-anchor="middle">High</text>
<text transform="translate(5.9,395.5) rotate(-90)" font-size="4.2" font-weight="bold" fill="#222" stroke="#222" stroke-width="0.15" text-anchor="middle">Features</text>
<text x="199.1" y="546.5" font-size="10.5" fill="#111" textLength="11" lengthAdjust="spacingAndGlyphs" style='font-family:"Liberation Serif", serif'>(<tspan font-weight="bold">b</tspan>)</text>
</svg>
</body></html>
